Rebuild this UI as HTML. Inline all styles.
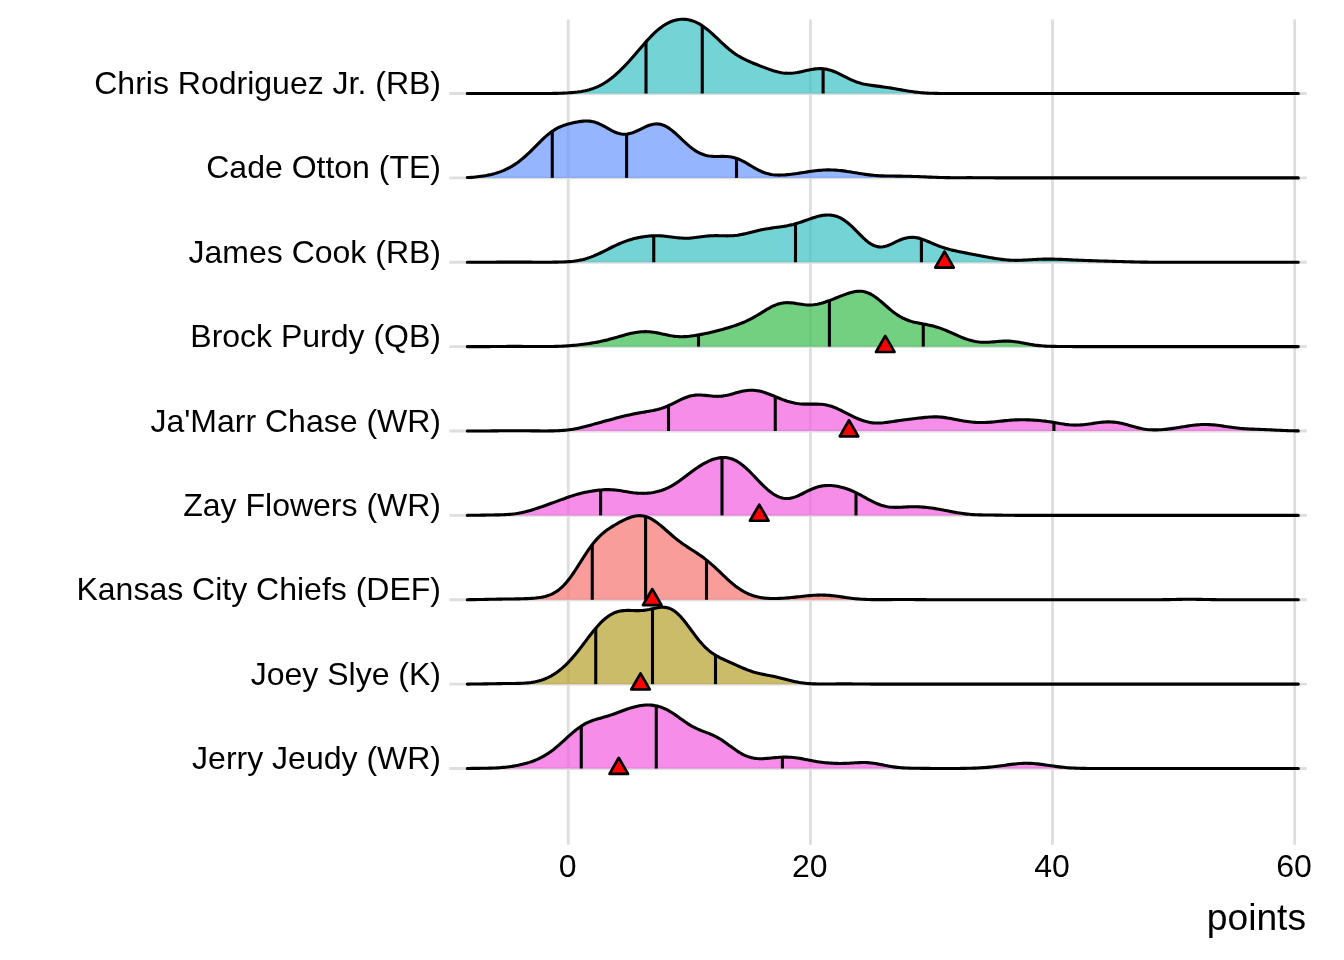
<!DOCTYPE html>
<html><head><meta charset="utf-8"><style>
html,body{margin:0;padding:0;background:#fff;width:1344px;height:960px;overflow:hidden}
svg{display:block;font-family:"Liberation Sans",sans-serif;fill:#000;will-change:transform}
</style></head><body>
<svg width="1344" height="960" viewBox="0 0 1344 960">
<line x1="568.25" y1="19.4" x2="568.25" y2="844.7" stroke="#DEDEDE" stroke-width="2.8"/>
<line x1="810.39" y1="19.4" x2="810.39" y2="844.7" stroke="#DEDEDE" stroke-width="2.8"/>
<line x1="1052.53" y1="19.4" x2="1052.53" y2="844.7" stroke="#DEDEDE" stroke-width="2.8"/>
<line x1="1294.67" y1="19.4" x2="1294.67" y2="844.7" stroke="#DEDEDE" stroke-width="2.8"/>
<line x1="449.4" y1="93.5" x2="1306.8" y2="93.5" stroke="#DEDEDE" stroke-width="2.8"/>
<line x1="449.4" y1="177.875" x2="1306.8" y2="177.875" stroke="#DEDEDE" stroke-width="2.8"/>
<line x1="449.4" y1="262.25" x2="1306.8" y2="262.25" stroke="#DEDEDE" stroke-width="2.8"/>
<line x1="449.4" y1="346.625" x2="1306.8" y2="346.625" stroke="#DEDEDE" stroke-width="2.8"/>
<line x1="449.4" y1="431.0" x2="1306.8" y2="431.0" stroke="#DEDEDE" stroke-width="2.8"/>
<line x1="449.4" y1="515.375" x2="1306.8" y2="515.375" stroke="#DEDEDE" stroke-width="2.8"/>
<line x1="449.4" y1="599.75" x2="1306.8" y2="599.75" stroke="#DEDEDE" stroke-width="2.8"/>
<line x1="449.4" y1="684.125" x2="1306.8" y2="684.125" stroke="#DEDEDE" stroke-width="2.8"/>
<line x1="449.4" y1="768.5" x2="1306.8" y2="768.5" stroke="#DEDEDE" stroke-width="2.8"/>
<path d="M467.3,93.50 L469.3,93.50 L471.3,93.50 L473.3,93.50 L475.3,93.50 L477.3,93.50 L479.3,93.50 L481.3,93.50 L483.3,93.50 L485.3,93.50 L487.3,93.50 L489.3,93.50 L491.3,93.50 L493.3,93.50 L495.3,93.50 L497.3,93.50 L499.3,93.50 L501.3,93.50 L503.3,93.50 L505.3,93.50 L507.3,93.50 L509.3,93.50 L511.3,93.50 L513.3,93.50 L515.3,93.50 L517.3,93.50 L519.3,93.50 L521.3,93.50 L523.3,93.50 L525.3,93.50 L527.3,93.50 L529.3,93.50 L531.3,93.50 L533.3,93.50 L535.3,93.50 L537.3,93.50 L539.3,93.49 L541.3,93.49 L543.3,93.48 L545.3,93.48 L547.3,93.47 L549.3,93.45 L551.3,93.43 L553.3,93.41 L555.3,93.38 L557.3,93.34 L559.3,93.29 L561.3,93.22 L563.3,93.15 L565.3,93.05 L567.3,92.94 L569.3,92.81 L571.3,92.66 L573.3,92.48 L575.3,92.27 L577.3,92.04 L579.3,91.76 L581.3,91.45 L583.3,91.09 L585.3,90.68 L587.3,90.22 L589.3,89.69 L591.3,89.10 L593.3,88.42 L595.3,87.67 L597.3,86.83 L599.3,85.90 L601.3,84.87 L603.3,83.75 L605.3,82.53 L607.3,81.21 L609.3,79.79 L611.3,78.28 L613.3,76.67 L615.3,74.98 L617.3,73.20 L619.3,71.34 L621.3,69.40 L623.3,67.40 L625.3,65.32 L627.3,63.19 L629.3,61.00 L631.3,58.76 L633.3,56.48 L635.3,54.18 L637.3,51.85 L639.3,49.52 L641.3,47.20 L643.3,44.89 L645.3,42.61 L647.3,40.38 L649.3,38.22 L651.3,36.12 L653.3,34.12 L655.3,32.22 L657.3,30.42 L659.3,28.75 L661.3,27.20 L663.3,25.78 L665.3,24.51 L667.3,23.36 L669.3,22.36 L671.3,21.50 L673.3,20.78 L675.3,20.20 L677.3,19.75 L679.3,19.44 L681.3,19.27 L683.3,19.23 L685.3,19.33 L687.3,19.57 L689.3,19.95 L691.3,20.46 L693.3,21.12 L695.3,21.91 L697.3,22.85 L699.3,23.92 L701.3,25.13 L703.3,26.47 L705.3,27.92 L707.3,29.49 L709.3,31.16 L711.3,32.91 L713.3,34.73 L715.3,36.60 L717.3,38.49 L719.3,40.40 L721.3,42.30 L723.3,44.17 L725.3,45.99 L727.3,47.74 L729.3,49.42 L731.3,51.02 L733.3,52.52 L735.3,53.93 L737.3,55.24 L739.3,56.47 L741.3,57.61 L743.3,58.67 L745.3,59.66 L747.3,60.61 L749.3,61.50 L751.3,62.36 L753.3,63.20 L755.3,64.01 L757.3,64.81 L759.3,65.60 L761.3,66.38 L763.3,67.16 L765.3,67.92 L767.3,68.66 L769.3,69.37 L771.3,70.06 L773.3,70.70 L775.3,71.29 L777.3,71.82 L779.3,72.28 L781.3,72.66 L783.3,72.96 L785.3,73.17 L787.3,73.28 L789.3,73.30 L791.3,73.23 L793.3,73.07 L795.3,72.82 L797.3,72.51 L799.3,72.14 L801.3,71.72 L803.3,71.27 L805.3,70.81 L807.3,70.35 L809.3,69.91 L811.3,69.51 L813.3,69.16 L815.3,68.88 L817.3,68.69 L819.3,68.60 L821.3,68.62 L823.3,68.75 L825.3,69.00 L827.3,69.38 L829.3,69.88 L831.3,70.49 L833.3,71.21 L835.3,72.02 L837.3,72.92 L839.3,73.87 L841.3,74.87 L843.3,75.88 L845.3,76.90 L847.3,77.91 L849.3,78.88 L851.3,79.80 L853.3,80.67 L855.3,81.46 L857.3,82.18 L859.3,82.83 L861.3,83.40 L863.3,83.90 L865.3,84.34 L867.3,84.72 L869.3,85.06 L871.3,85.36 L873.3,85.64 L875.3,85.90 L877.3,86.15 L879.3,86.40 L881.3,86.65 L883.3,86.92 L885.3,87.20 L887.3,87.49 L889.3,87.80 L891.3,88.12 L893.3,88.46 L895.3,88.81 L897.3,89.16 L899.3,89.52 L901.3,89.88 L903.3,90.24 L905.3,90.59 L907.3,90.93 L909.3,91.25 L911.3,91.55 L913.3,91.83 L915.3,92.09 L917.3,92.32 L919.3,92.53 L921.3,92.71 L923.3,92.86 L925.3,92.99 L927.3,93.10 L929.3,93.19 L931.3,93.26 L933.3,93.32 L935.3,93.36 L937.3,93.40 L939.3,93.43 L941.3,93.45 L943.3,93.46 L945.3,93.47 L947.3,93.48 L949.3,93.48 L951.3,93.49 L953.3,93.49 L955.3,93.49 L957.3,93.50 L959.3,93.50 L961.3,93.50 L963.3,93.50 L965.3,93.50 L967.3,93.50 L969.3,93.50 L971.3,93.50 L973.3,93.50 L975.3,93.50 L977.3,93.50 L979.3,93.50 L981.3,93.50 L983.3,93.50 L985.3,93.50 L987.3,93.50 L989.3,93.50 L991.3,93.50 L993.3,93.50 L995.3,93.50 L997.3,93.50 L999.3,93.50 L1001.3,93.50 L1003.3,93.50 L1005.3,93.50 L1007.3,93.50 L1009.3,93.50 L1011.3,93.50 L1013.3,93.50 L1015.3,93.50 L1017.3,93.50 L1019.3,93.50 L1021.3,93.50 L1023.3,93.50 L1025.3,93.50 L1027.3,93.50 L1029.3,93.50 L1031.3,93.50 L1033.3,93.50 L1035.3,93.50 L1037.3,93.50 L1039.3,93.50 L1041.3,93.50 L1043.3,93.50 L1045.3,93.50 L1047.3,93.50 L1049.3,93.50 L1051.3,93.50 L1053.3,93.50 L1055.3,93.50 L1057.3,93.50 L1059.3,93.50 L1061.3,93.50 L1063.3,93.50 L1065.3,93.50 L1067.3,93.50 L1069.3,93.50 L1071.3,93.50 L1073.3,93.50 L1075.3,93.50 L1077.3,93.50 L1079.3,93.50 L1081.3,93.50 L1083.3,93.50 L1085.3,93.50 L1087.3,93.50 L1089.3,93.50 L1091.3,93.50 L1093.3,93.50 L1095.3,93.50 L1097.3,93.50 L1099.3,93.50 L1101.3,93.50 L1103.3,93.50 L1105.3,93.50 L1107.3,93.50 L1109.3,93.50 L1111.3,93.50 L1113.3,93.50 L1115.3,93.50 L1117.3,93.50 L1119.3,93.50 L1121.3,93.50 L1123.3,93.50 L1125.3,93.50 L1127.3,93.50 L1129.3,93.50 L1131.3,93.50 L1133.3,93.50 L1135.3,93.50 L1137.3,93.50 L1139.3,93.50 L1141.3,93.50 L1143.3,93.50 L1145.3,93.50 L1147.3,93.50 L1149.3,93.50 L1151.3,93.50 L1153.3,93.50 L1155.3,93.50 L1157.3,93.50 L1159.3,93.50 L1161.3,93.50 L1163.3,93.50 L1165.3,93.50 L1167.3,93.50 L1169.3,93.50 L1171.3,93.50 L1173.3,93.50 L1175.3,93.50 L1177.3,93.50 L1179.3,93.50 L1181.3,93.50 L1183.3,93.50 L1185.3,93.50 L1187.3,93.50 L1189.3,93.50 L1191.3,93.50 L1193.3,93.50 L1195.3,93.50 L1197.3,93.50 L1199.3,93.50 L1201.3,93.50 L1203.3,93.50 L1205.3,93.50 L1207.3,93.50 L1209.3,93.50 L1211.3,93.50 L1213.3,93.50 L1215.3,93.50 L1217.3,93.50 L1219.3,93.50 L1221.3,93.50 L1223.3,93.50 L1225.3,93.50 L1227.3,93.50 L1229.3,93.50 L1231.3,93.50 L1233.3,93.50 L1235.3,93.50 L1237.3,93.50 L1239.3,93.50 L1241.3,93.50 L1243.3,93.50 L1245.3,93.50 L1247.3,93.50 L1249.3,93.50 L1251.3,93.50 L1253.3,93.50 L1255.3,93.50 L1257.3,93.50 L1259.3,93.50 L1261.3,93.50 L1263.3,93.50 L1265.3,93.50 L1267.3,93.50 L1269.3,93.50 L1271.3,93.50 L1273.3,93.50 L1275.3,93.50 L1277.3,93.50 L1279.3,93.50 L1281.3,93.50 L1283.3,93.50 L1285.3,93.50 L1287.3,93.50 L1289.3,93.50 L1291.3,93.50 L1293.3,93.50 L1295.3,93.50 L1297.3,93.50 L1298.3,93.50 L1298.3,93.5 L467.3,93.5 Z" fill="#38C0C3" fill-opacity="0.7" stroke="none"/>
<path d="M467.3,93.50 L469.3,93.50 L471.3,93.50 L473.3,93.50 L475.3,93.50 L477.3,93.50 L479.3,93.50 L481.3,93.50 L483.3,93.50 L485.3,93.50 L487.3,93.50 L489.3,93.50 L491.3,93.50 L493.3,93.50 L495.3,93.50 L497.3,93.50 L499.3,93.50 L501.3,93.50 L503.3,93.50 L505.3,93.50 L507.3,93.50 L509.3,93.50 L511.3,93.50 L513.3,93.50 L515.3,93.50 L517.3,93.50 L519.3,93.50 L521.3,93.50 L523.3,93.50 L525.3,93.50 L527.3,93.50 L529.3,93.50 L531.3,93.50 L533.3,93.50 L535.3,93.50 L537.3,93.50 L539.3,93.49 L541.3,93.49 L543.3,93.48 L545.3,93.48 L547.3,93.47 L549.3,93.45 L551.3,93.43 L553.3,93.41 L555.3,93.38 L557.3,93.34 L559.3,93.29 L561.3,93.22 L563.3,93.15 L565.3,93.05 L567.3,92.94 L569.3,92.81 L571.3,92.66 L573.3,92.48 L575.3,92.27 L577.3,92.04 L579.3,91.76 L581.3,91.45 L583.3,91.09 L585.3,90.68 L587.3,90.22 L589.3,89.69 L591.3,89.10 L593.3,88.42 L595.3,87.67 L597.3,86.83 L599.3,85.90 L601.3,84.87 L603.3,83.75 L605.3,82.53 L607.3,81.21 L609.3,79.79 L611.3,78.28 L613.3,76.67 L615.3,74.98 L617.3,73.20 L619.3,71.34 L621.3,69.40 L623.3,67.40 L625.3,65.32 L627.3,63.19 L629.3,61.00 L631.3,58.76 L633.3,56.48 L635.3,54.18 L637.3,51.85 L639.3,49.52 L641.3,47.20 L643.3,44.89 L645.3,42.61 L647.3,40.38 L649.3,38.22 L651.3,36.12 L653.3,34.12 L655.3,32.22 L657.3,30.42 L659.3,28.75 L661.3,27.20 L663.3,25.78 L665.3,24.51 L667.3,23.36 L669.3,22.36 L671.3,21.50 L673.3,20.78 L675.3,20.20 L677.3,19.75 L679.3,19.44 L681.3,19.27 L683.3,19.23 L685.3,19.33 L687.3,19.57 L689.3,19.95 L691.3,20.46 L693.3,21.12 L695.3,21.91 L697.3,22.85 L699.3,23.92 L701.3,25.13 L703.3,26.47 L705.3,27.92 L707.3,29.49 L709.3,31.16 L711.3,32.91 L713.3,34.73 L715.3,36.60 L717.3,38.49 L719.3,40.40 L721.3,42.30 L723.3,44.17 L725.3,45.99 L727.3,47.74 L729.3,49.42 L731.3,51.02 L733.3,52.52 L735.3,53.93 L737.3,55.24 L739.3,56.47 L741.3,57.61 L743.3,58.67 L745.3,59.66 L747.3,60.61 L749.3,61.50 L751.3,62.36 L753.3,63.20 L755.3,64.01 L757.3,64.81 L759.3,65.60 L761.3,66.38 L763.3,67.16 L765.3,67.92 L767.3,68.66 L769.3,69.37 L771.3,70.06 L773.3,70.70 L775.3,71.29 L777.3,71.82 L779.3,72.28 L781.3,72.66 L783.3,72.96 L785.3,73.17 L787.3,73.28 L789.3,73.30 L791.3,73.23 L793.3,73.07 L795.3,72.82 L797.3,72.51 L799.3,72.14 L801.3,71.72 L803.3,71.27 L805.3,70.81 L807.3,70.35 L809.3,69.91 L811.3,69.51 L813.3,69.16 L815.3,68.88 L817.3,68.69 L819.3,68.60 L821.3,68.62 L823.3,68.75 L825.3,69.00 L827.3,69.38 L829.3,69.88 L831.3,70.49 L833.3,71.21 L835.3,72.02 L837.3,72.92 L839.3,73.87 L841.3,74.87 L843.3,75.88 L845.3,76.90 L847.3,77.91 L849.3,78.88 L851.3,79.80 L853.3,80.67 L855.3,81.46 L857.3,82.18 L859.3,82.83 L861.3,83.40 L863.3,83.90 L865.3,84.34 L867.3,84.72 L869.3,85.06 L871.3,85.36 L873.3,85.64 L875.3,85.90 L877.3,86.15 L879.3,86.40 L881.3,86.65 L883.3,86.92 L885.3,87.20 L887.3,87.49 L889.3,87.80 L891.3,88.12 L893.3,88.46 L895.3,88.81 L897.3,89.16 L899.3,89.52 L901.3,89.88 L903.3,90.24 L905.3,90.59 L907.3,90.93 L909.3,91.25 L911.3,91.55 L913.3,91.83 L915.3,92.09 L917.3,92.32 L919.3,92.53 L921.3,92.71 L923.3,92.86 L925.3,92.99 L927.3,93.10 L929.3,93.19 L931.3,93.26 L933.3,93.32 L935.3,93.36 L937.3,93.40 L939.3,93.43 L941.3,93.45 L943.3,93.46 L945.3,93.47 L947.3,93.48 L949.3,93.48 L951.3,93.49 L953.3,93.49 L955.3,93.49 L957.3,93.50 L959.3,93.50 L961.3,93.50 L963.3,93.50 L965.3,93.50 L967.3,93.50 L969.3,93.50 L971.3,93.50 L973.3,93.50 L975.3,93.50 L977.3,93.50 L979.3,93.50 L981.3,93.50 L983.3,93.50 L985.3,93.50 L987.3,93.50 L989.3,93.50 L991.3,93.50 L993.3,93.50 L995.3,93.50 L997.3,93.50 L999.3,93.50 L1001.3,93.50 L1003.3,93.50 L1005.3,93.50 L1007.3,93.50 L1009.3,93.50 L1011.3,93.50 L1013.3,93.50 L1015.3,93.50 L1017.3,93.50 L1019.3,93.50 L1021.3,93.50 L1023.3,93.50 L1025.3,93.50 L1027.3,93.50 L1029.3,93.50 L1031.3,93.50 L1033.3,93.50 L1035.3,93.50 L1037.3,93.50 L1039.3,93.50 L1041.3,93.50 L1043.3,93.50 L1045.3,93.50 L1047.3,93.50 L1049.3,93.50 L1051.3,93.50 L1053.3,93.50 L1055.3,93.50 L1057.3,93.50 L1059.3,93.50 L1061.3,93.50 L1063.3,93.50 L1065.3,93.50 L1067.3,93.50 L1069.3,93.50 L1071.3,93.50 L1073.3,93.50 L1075.3,93.50 L1077.3,93.50 L1079.3,93.50 L1081.3,93.50 L1083.3,93.50 L1085.3,93.50 L1087.3,93.50 L1089.3,93.50 L1091.3,93.50 L1093.3,93.50 L1095.3,93.50 L1097.3,93.50 L1099.3,93.50 L1101.3,93.50 L1103.3,93.50 L1105.3,93.50 L1107.3,93.50 L1109.3,93.50 L1111.3,93.50 L1113.3,93.50 L1115.3,93.50 L1117.3,93.50 L1119.3,93.50 L1121.3,93.50 L1123.3,93.50 L1125.3,93.50 L1127.3,93.50 L1129.3,93.50 L1131.3,93.50 L1133.3,93.50 L1135.3,93.50 L1137.3,93.50 L1139.3,93.50 L1141.3,93.50 L1143.3,93.50 L1145.3,93.50 L1147.3,93.50 L1149.3,93.50 L1151.3,93.50 L1153.3,93.50 L1155.3,93.50 L1157.3,93.50 L1159.3,93.50 L1161.3,93.50 L1163.3,93.50 L1165.3,93.50 L1167.3,93.50 L1169.3,93.50 L1171.3,93.50 L1173.3,93.50 L1175.3,93.50 L1177.3,93.50 L1179.3,93.50 L1181.3,93.50 L1183.3,93.50 L1185.3,93.50 L1187.3,93.50 L1189.3,93.50 L1191.3,93.50 L1193.3,93.50 L1195.3,93.50 L1197.3,93.50 L1199.3,93.50 L1201.3,93.50 L1203.3,93.50 L1205.3,93.50 L1207.3,93.50 L1209.3,93.50 L1211.3,93.50 L1213.3,93.50 L1215.3,93.50 L1217.3,93.50 L1219.3,93.50 L1221.3,93.50 L1223.3,93.50 L1225.3,93.50 L1227.3,93.50 L1229.3,93.50 L1231.3,93.50 L1233.3,93.50 L1235.3,93.50 L1237.3,93.50 L1239.3,93.50 L1241.3,93.50 L1243.3,93.50 L1245.3,93.50 L1247.3,93.50 L1249.3,93.50 L1251.3,93.50 L1253.3,93.50 L1255.3,93.50 L1257.3,93.50 L1259.3,93.50 L1261.3,93.50 L1263.3,93.50 L1265.3,93.50 L1267.3,93.50 L1269.3,93.50 L1271.3,93.50 L1273.3,93.50 L1275.3,93.50 L1277.3,93.50 L1279.3,93.50 L1281.3,93.50 L1283.3,93.50 L1285.3,93.50 L1287.3,93.50 L1289.3,93.50 L1291.3,93.50 L1293.3,93.50 L1295.3,93.50 L1297.3,93.50 L1298.3,93.50" fill="none" stroke="#000" stroke-width="3.1" stroke-linecap="round" stroke-linejoin="round"/>
<line x1="646.00" y1="93.5" x2="646.00" y2="41.83" stroke="#000" stroke-width="3.1"/>
<line x1="702.25" y1="93.5" x2="702.25" y2="25.75" stroke="#000" stroke-width="3.1"/>
<line x1="823.10" y1="93.5" x2="823.10" y2="68.73" stroke="#000" stroke-width="3.1"/>
<path d="M467.3,177.55 L469.3,177.45 L471.3,177.33 L473.3,177.18 L475.3,177.01 L477.3,176.81 L479.3,176.58 L481.3,176.31 L483.3,176.01 L485.3,175.68 L487.3,175.31 L489.3,174.89 L491.3,174.44 L493.3,173.93 L495.3,173.38 L497.3,172.78 L499.3,172.11 L501.3,171.38 L503.3,170.58 L505.3,169.71 L507.3,168.75 L509.3,167.72 L511.3,166.60 L513.3,165.39 L515.3,164.08 L517.3,162.69 L519.3,161.21 L521.3,159.63 L523.3,157.98 L525.3,156.24 L527.3,154.42 L529.3,152.54 L531.3,150.61 L533.3,148.63 L535.3,146.63 L537.3,144.62 L539.3,142.61 L541.3,140.65 L543.3,138.73 L545.3,136.89 L547.3,135.14 L549.3,133.50 L551.3,131.98 L553.3,130.59 L555.3,129.34 L557.3,128.22 L559.3,127.23 L561.3,126.35 L563.3,125.58 L565.3,124.90 L567.3,124.29 L569.3,123.75 L571.3,123.25 L573.3,122.79 L575.3,122.36 L577.3,121.98 L579.3,121.64 L581.3,121.37 L583.3,121.16 L585.3,121.04 L587.3,121.03 L589.3,121.15 L591.3,121.40 L593.3,121.80 L595.3,122.34 L597.3,123.04 L599.3,123.87 L601.3,124.81 L603.3,125.85 L605.3,126.96 L607.3,128.09 L609.3,129.22 L611.3,130.31 L613.3,131.32 L615.3,132.21 L617.3,132.97 L619.3,133.56 L621.3,133.96 L623.3,134.18 L625.3,134.19 L627.3,134.01 L629.3,133.65 L631.3,133.12 L633.3,132.44 L635.3,131.63 L637.3,130.73 L639.3,129.78 L641.3,128.79 L643.3,127.81 L645.3,126.87 L647.3,126.01 L649.3,125.26 L651.3,124.65 L653.3,124.21 L655.3,123.96 L657.3,123.92 L659.3,124.10 L661.3,124.52 L663.3,125.16 L665.3,126.04 L667.3,127.13 L669.3,128.41 L671.3,129.88 L673.3,131.50 L675.3,133.23 L677.3,135.06 L679.3,136.94 L681.3,138.85 L683.3,140.75 L685.3,142.62 L687.3,144.42 L689.3,146.14 L691.3,147.76 L693.3,149.25 L695.3,150.61 L697.3,151.82 L699.3,152.89 L701.3,153.80 L703.3,154.56 L705.3,155.18 L707.3,155.66 L709.3,156.01 L711.3,156.25 L713.3,156.40 L715.3,156.46 L717.3,156.47 L719.3,156.45 L721.3,156.42 L723.3,156.41 L725.3,156.45 L727.3,156.55 L729.3,156.74 L731.3,157.04 L733.3,157.45 L735.3,157.99 L737.3,158.65 L739.3,159.44 L741.3,160.35 L743.3,161.36 L745.3,162.46 L747.3,163.61 L749.3,164.81 L751.3,166.02 L753.3,167.22 L755.3,168.38 L757.3,169.49 L759.3,170.52 L761.3,171.45 L763.3,172.29 L765.3,173.01 L767.3,173.61 L769.3,174.11 L771.3,174.49 L773.3,174.77 L775.3,174.96 L777.3,175.07 L779.3,175.09 L781.3,175.06 L783.3,174.97 L785.3,174.84 L787.3,174.66 L789.3,174.46 L791.3,174.23 L793.3,173.98 L795.3,173.71 L797.3,173.42 L799.3,173.12 L801.3,172.82 L803.3,172.51 L805.3,172.19 L807.3,171.88 L809.3,171.58 L811.3,171.29 L813.3,171.02 L815.3,170.77 L817.3,170.54 L819.3,170.34 L821.3,170.18 L823.3,170.05 L825.3,169.96 L827.3,169.91 L829.3,169.90 L831.3,169.93 L833.3,170.00 L835.3,170.10 L837.3,170.25 L839.3,170.42 L841.3,170.64 L843.3,170.88 L845.3,171.14 L847.3,171.44 L849.3,171.75 L851.3,172.07 L853.3,172.41 L855.3,172.75 L857.3,173.09 L859.3,173.43 L861.3,173.76 L863.3,174.07 L865.3,174.37 L867.3,174.64 L869.3,174.89 L871.3,175.12 L873.3,175.31 L875.3,175.48 L877.3,175.63 L879.3,175.74 L881.3,175.84 L883.3,175.91 L885.3,175.97 L887.3,176.01 L889.3,176.04 L891.3,176.06 L893.3,176.07 L895.3,176.09 L897.3,176.10 L899.3,176.12 L901.3,176.15 L903.3,176.18 L905.3,176.21 L907.3,176.26 L909.3,176.31 L911.3,176.36 L913.3,176.43 L915.3,176.50 L917.3,176.57 L919.3,176.65 L921.3,176.73 L923.3,176.82 L925.3,176.90 L927.3,176.99 L929.3,177.08 L931.3,177.16 L933.3,177.24 L935.3,177.32 L937.3,177.39 L939.3,177.45 L941.3,177.51 L943.3,177.56 L945.3,177.61 L947.3,177.64 L949.3,177.66 L951.3,177.68 L953.3,177.69 L955.3,177.70 L957.3,177.70 L959.3,177.70 L961.3,177.69 L963.3,177.68 L965.3,177.68 L967.3,177.67 L969.3,177.67 L971.3,177.67 L973.3,177.68 L975.3,177.68 L977.3,177.70 L979.3,177.71 L981.3,177.72 L983.3,177.74 L985.3,177.76 L987.3,177.77 L989.3,177.79 L991.3,177.80 L993.3,177.82 L995.3,177.83 L997.3,177.84 L999.3,177.85 L1001.3,177.85 L1003.3,177.86 L1005.3,177.86 L1007.3,177.87 L1009.3,177.87 L1011.3,177.87 L1013.3,177.87 L1015.3,177.87 L1017.3,177.87 L1019.3,177.87 L1021.3,177.87 L1023.3,177.87 L1025.3,177.87 L1027.3,177.87 L1029.3,177.87 L1031.3,177.87 L1033.3,177.87 L1035.3,177.87 L1037.3,177.87 L1039.3,177.87 L1041.3,177.87 L1043.3,177.87 L1045.3,177.87 L1047.3,177.87 L1049.3,177.87 L1051.3,177.87 L1053.3,177.87 L1055.3,177.87 L1057.3,177.87 L1059.3,177.87 L1061.3,177.87 L1063.3,177.87 L1065.3,177.87 L1067.3,177.87 L1069.3,177.87 L1071.3,177.87 L1073.3,177.87 L1075.3,177.87 L1077.3,177.87 L1079.3,177.87 L1081.3,177.87 L1083.3,177.88 L1085.3,177.88 L1087.3,177.88 L1089.3,177.88 L1091.3,177.88 L1093.3,177.88 L1095.3,177.88 L1097.3,177.88 L1099.3,177.88 L1101.3,177.88 L1103.3,177.88 L1105.3,177.88 L1107.3,177.88 L1109.3,177.88 L1111.3,177.88 L1113.3,177.88 L1115.3,177.88 L1117.3,177.88 L1119.3,177.88 L1121.3,177.88 L1123.3,177.88 L1125.3,177.88 L1127.3,177.88 L1129.3,177.88 L1131.3,177.88 L1133.3,177.88 L1135.3,177.88 L1137.3,177.88 L1139.3,177.88 L1141.3,177.88 L1143.3,177.88 L1145.3,177.88 L1147.3,177.88 L1149.3,177.88 L1151.3,177.88 L1153.3,177.88 L1155.3,177.88 L1157.3,177.88 L1159.3,177.88 L1161.3,177.88 L1163.3,177.88 L1165.3,177.88 L1167.3,177.88 L1169.3,177.88 L1171.3,177.88 L1173.3,177.88 L1175.3,177.88 L1177.3,177.88 L1179.3,177.88 L1181.3,177.88 L1183.3,177.88 L1185.3,177.88 L1187.3,177.88 L1189.3,177.88 L1191.3,177.88 L1193.3,177.88 L1195.3,177.88 L1197.3,177.88 L1199.3,177.88 L1201.3,177.88 L1203.3,177.88 L1205.3,177.88 L1207.3,177.88 L1209.3,177.88 L1211.3,177.88 L1213.3,177.88 L1215.3,177.88 L1217.3,177.88 L1219.3,177.88 L1221.3,177.88 L1223.3,177.88 L1225.3,177.88 L1227.3,177.88 L1229.3,177.88 L1231.3,177.88 L1233.3,177.88 L1235.3,177.88 L1237.3,177.88 L1239.3,177.88 L1241.3,177.88 L1243.3,177.88 L1245.3,177.88 L1247.3,177.88 L1249.3,177.88 L1251.3,177.88 L1253.3,177.88 L1255.3,177.88 L1257.3,177.88 L1259.3,177.88 L1261.3,177.88 L1263.3,177.88 L1265.3,177.88 L1267.3,177.88 L1269.3,177.88 L1271.3,177.88 L1273.3,177.88 L1275.3,177.88 L1277.3,177.88 L1279.3,177.88 L1281.3,177.88 L1283.3,177.88 L1285.3,177.88 L1287.3,177.88 L1289.3,177.88 L1291.3,177.88 L1293.3,177.88 L1295.3,177.88 L1297.3,177.88 L1298.3,177.88 L1298.3,177.875 L467.3,177.875 Z" fill="#6995FF" fill-opacity="0.7" stroke="none"/>
<path d="M467.3,177.55 L469.3,177.45 L471.3,177.33 L473.3,177.18 L475.3,177.01 L477.3,176.81 L479.3,176.58 L481.3,176.31 L483.3,176.01 L485.3,175.68 L487.3,175.31 L489.3,174.89 L491.3,174.44 L493.3,173.93 L495.3,173.38 L497.3,172.78 L499.3,172.11 L501.3,171.38 L503.3,170.58 L505.3,169.71 L507.3,168.75 L509.3,167.72 L511.3,166.60 L513.3,165.39 L515.3,164.08 L517.3,162.69 L519.3,161.21 L521.3,159.63 L523.3,157.98 L525.3,156.24 L527.3,154.42 L529.3,152.54 L531.3,150.61 L533.3,148.63 L535.3,146.63 L537.3,144.62 L539.3,142.61 L541.3,140.65 L543.3,138.73 L545.3,136.89 L547.3,135.14 L549.3,133.50 L551.3,131.98 L553.3,130.59 L555.3,129.34 L557.3,128.22 L559.3,127.23 L561.3,126.35 L563.3,125.58 L565.3,124.90 L567.3,124.29 L569.3,123.75 L571.3,123.25 L573.3,122.79 L575.3,122.36 L577.3,121.98 L579.3,121.64 L581.3,121.37 L583.3,121.16 L585.3,121.04 L587.3,121.03 L589.3,121.15 L591.3,121.40 L593.3,121.80 L595.3,122.34 L597.3,123.04 L599.3,123.87 L601.3,124.81 L603.3,125.85 L605.3,126.96 L607.3,128.09 L609.3,129.22 L611.3,130.31 L613.3,131.32 L615.3,132.21 L617.3,132.97 L619.3,133.56 L621.3,133.96 L623.3,134.18 L625.3,134.19 L627.3,134.01 L629.3,133.65 L631.3,133.12 L633.3,132.44 L635.3,131.63 L637.3,130.73 L639.3,129.78 L641.3,128.79 L643.3,127.81 L645.3,126.87 L647.3,126.01 L649.3,125.26 L651.3,124.65 L653.3,124.21 L655.3,123.96 L657.3,123.92 L659.3,124.10 L661.3,124.52 L663.3,125.16 L665.3,126.04 L667.3,127.13 L669.3,128.41 L671.3,129.88 L673.3,131.50 L675.3,133.23 L677.3,135.06 L679.3,136.94 L681.3,138.85 L683.3,140.75 L685.3,142.62 L687.3,144.42 L689.3,146.14 L691.3,147.76 L693.3,149.25 L695.3,150.61 L697.3,151.82 L699.3,152.89 L701.3,153.80 L703.3,154.56 L705.3,155.18 L707.3,155.66 L709.3,156.01 L711.3,156.25 L713.3,156.40 L715.3,156.46 L717.3,156.47 L719.3,156.45 L721.3,156.42 L723.3,156.41 L725.3,156.45 L727.3,156.55 L729.3,156.74 L731.3,157.04 L733.3,157.45 L735.3,157.99 L737.3,158.65 L739.3,159.44 L741.3,160.35 L743.3,161.36 L745.3,162.46 L747.3,163.61 L749.3,164.81 L751.3,166.02 L753.3,167.22 L755.3,168.38 L757.3,169.49 L759.3,170.52 L761.3,171.45 L763.3,172.29 L765.3,173.01 L767.3,173.61 L769.3,174.11 L771.3,174.49 L773.3,174.77 L775.3,174.96 L777.3,175.07 L779.3,175.09 L781.3,175.06 L783.3,174.97 L785.3,174.84 L787.3,174.66 L789.3,174.46 L791.3,174.23 L793.3,173.98 L795.3,173.71 L797.3,173.42 L799.3,173.12 L801.3,172.82 L803.3,172.51 L805.3,172.19 L807.3,171.88 L809.3,171.58 L811.3,171.29 L813.3,171.02 L815.3,170.77 L817.3,170.54 L819.3,170.34 L821.3,170.18 L823.3,170.05 L825.3,169.96 L827.3,169.91 L829.3,169.90 L831.3,169.93 L833.3,170.00 L835.3,170.10 L837.3,170.25 L839.3,170.42 L841.3,170.64 L843.3,170.88 L845.3,171.14 L847.3,171.44 L849.3,171.75 L851.3,172.07 L853.3,172.41 L855.3,172.75 L857.3,173.09 L859.3,173.43 L861.3,173.76 L863.3,174.07 L865.3,174.37 L867.3,174.64 L869.3,174.89 L871.3,175.12 L873.3,175.31 L875.3,175.48 L877.3,175.63 L879.3,175.74 L881.3,175.84 L883.3,175.91 L885.3,175.97 L887.3,176.01 L889.3,176.04 L891.3,176.06 L893.3,176.07 L895.3,176.09 L897.3,176.10 L899.3,176.12 L901.3,176.15 L903.3,176.18 L905.3,176.21 L907.3,176.26 L909.3,176.31 L911.3,176.36 L913.3,176.43 L915.3,176.50 L917.3,176.57 L919.3,176.65 L921.3,176.73 L923.3,176.82 L925.3,176.90 L927.3,176.99 L929.3,177.08 L931.3,177.16 L933.3,177.24 L935.3,177.32 L937.3,177.39 L939.3,177.45 L941.3,177.51 L943.3,177.56 L945.3,177.61 L947.3,177.64 L949.3,177.66 L951.3,177.68 L953.3,177.69 L955.3,177.70 L957.3,177.70 L959.3,177.70 L961.3,177.69 L963.3,177.68 L965.3,177.68 L967.3,177.67 L969.3,177.67 L971.3,177.67 L973.3,177.68 L975.3,177.68 L977.3,177.70 L979.3,177.71 L981.3,177.72 L983.3,177.74 L985.3,177.76 L987.3,177.77 L989.3,177.79 L991.3,177.80 L993.3,177.82 L995.3,177.83 L997.3,177.84 L999.3,177.85 L1001.3,177.85 L1003.3,177.86 L1005.3,177.86 L1007.3,177.87 L1009.3,177.87 L1011.3,177.87 L1013.3,177.87 L1015.3,177.87 L1017.3,177.87 L1019.3,177.87 L1021.3,177.87 L1023.3,177.87 L1025.3,177.87 L1027.3,177.87 L1029.3,177.87 L1031.3,177.87 L1033.3,177.87 L1035.3,177.87 L1037.3,177.87 L1039.3,177.87 L1041.3,177.87 L1043.3,177.87 L1045.3,177.87 L1047.3,177.87 L1049.3,177.87 L1051.3,177.87 L1053.3,177.87 L1055.3,177.87 L1057.3,177.87 L1059.3,177.87 L1061.3,177.87 L1063.3,177.87 L1065.3,177.87 L1067.3,177.87 L1069.3,177.87 L1071.3,177.87 L1073.3,177.87 L1075.3,177.87 L1077.3,177.87 L1079.3,177.87 L1081.3,177.87 L1083.3,177.88 L1085.3,177.88 L1087.3,177.88 L1089.3,177.88 L1091.3,177.88 L1093.3,177.88 L1095.3,177.88 L1097.3,177.88 L1099.3,177.88 L1101.3,177.88 L1103.3,177.88 L1105.3,177.88 L1107.3,177.88 L1109.3,177.88 L1111.3,177.88 L1113.3,177.88 L1115.3,177.88 L1117.3,177.88 L1119.3,177.88 L1121.3,177.88 L1123.3,177.88 L1125.3,177.88 L1127.3,177.88 L1129.3,177.88 L1131.3,177.88 L1133.3,177.88 L1135.3,177.88 L1137.3,177.88 L1139.3,177.88 L1141.3,177.88 L1143.3,177.88 L1145.3,177.88 L1147.3,177.88 L1149.3,177.88 L1151.3,177.88 L1153.3,177.88 L1155.3,177.88 L1157.3,177.88 L1159.3,177.88 L1161.3,177.88 L1163.3,177.88 L1165.3,177.88 L1167.3,177.88 L1169.3,177.88 L1171.3,177.88 L1173.3,177.88 L1175.3,177.88 L1177.3,177.88 L1179.3,177.88 L1181.3,177.88 L1183.3,177.88 L1185.3,177.88 L1187.3,177.88 L1189.3,177.88 L1191.3,177.88 L1193.3,177.88 L1195.3,177.88 L1197.3,177.88 L1199.3,177.88 L1201.3,177.88 L1203.3,177.88 L1205.3,177.88 L1207.3,177.88 L1209.3,177.88 L1211.3,177.88 L1213.3,177.88 L1215.3,177.88 L1217.3,177.88 L1219.3,177.88 L1221.3,177.88 L1223.3,177.88 L1225.3,177.88 L1227.3,177.88 L1229.3,177.88 L1231.3,177.88 L1233.3,177.88 L1235.3,177.88 L1237.3,177.88 L1239.3,177.88 L1241.3,177.88 L1243.3,177.88 L1245.3,177.88 L1247.3,177.88 L1249.3,177.88 L1251.3,177.88 L1253.3,177.88 L1255.3,177.88 L1257.3,177.88 L1259.3,177.88 L1261.3,177.88 L1263.3,177.88 L1265.3,177.88 L1267.3,177.88 L1269.3,177.88 L1271.3,177.88 L1273.3,177.88 L1275.3,177.88 L1277.3,177.88 L1279.3,177.88 L1281.3,177.88 L1283.3,177.88 L1285.3,177.88 L1287.3,177.88 L1289.3,177.88 L1291.3,177.88 L1293.3,177.88 L1295.3,177.88 L1297.3,177.88 L1298.3,177.88" fill="none" stroke="#000" stroke-width="3.1" stroke-linecap="round" stroke-linejoin="round"/>
<line x1="552.25" y1="177.875" x2="552.25" y2="131.30" stroke="#000" stroke-width="3.1"/>
<line x1="626.60" y1="177.875" x2="626.60" y2="134.10" stroke="#000" stroke-width="3.1"/>
<line x1="736.50" y1="177.875" x2="736.50" y2="158.37" stroke="#000" stroke-width="3.1"/>
<path d="M467.3,262.25 L469.3,262.25 L471.3,262.25 L473.3,262.25 L475.3,262.25 L477.3,262.24 L479.3,262.24 L481.3,262.24 L483.3,262.24 L485.3,262.23 L487.3,262.22 L489.3,262.22 L491.3,262.21 L493.3,262.20 L495.3,262.19 L497.3,262.17 L499.3,262.16 L501.3,262.15 L503.3,262.13 L505.3,262.12 L507.3,262.11 L509.3,262.10 L511.3,262.10 L513.3,262.09 L515.3,262.09 L517.3,262.10 L519.3,262.10 L521.3,262.11 L523.3,262.12 L525.3,262.13 L527.3,262.14 L529.3,262.16 L531.3,262.17 L533.3,262.18 L535.3,262.19 L537.3,262.20 L539.3,262.20 L541.3,262.21 L543.3,262.21 L545.3,262.21 L547.3,262.20 L549.3,262.19 L551.3,262.18 L553.3,262.16 L555.3,262.13 L557.3,262.10 L559.3,262.06 L561.3,262.00 L563.3,261.93 L565.3,261.84 L567.3,261.73 L569.3,261.59 L571.3,261.42 L573.3,261.21 L575.3,260.95 L577.3,260.65 L579.3,260.30 L581.3,259.89 L583.3,259.42 L585.3,258.88 L587.3,258.28 L589.3,257.62 L591.3,256.90 L593.3,256.12 L595.3,255.28 L597.3,254.40 L599.3,253.47 L601.3,252.51 L603.3,251.52 L605.3,250.52 L607.3,249.51 L609.3,248.50 L611.3,247.50 L613.3,246.51 L615.3,245.56 L617.3,244.63 L619.3,243.74 L621.3,242.90 L623.3,242.10 L625.3,241.35 L627.3,240.65 L629.3,240.00 L631.3,239.40 L633.3,238.85 L635.3,238.35 L637.3,237.89 L639.3,237.48 L641.3,237.10 L643.3,236.78 L645.3,236.49 L647.3,236.25 L649.3,236.05 L651.3,235.91 L653.3,235.81 L655.3,235.76 L657.3,235.76 L659.3,235.81 L661.3,235.91 L663.3,236.06 L665.3,236.24 L667.3,236.47 L669.3,236.71 L671.3,236.97 L673.3,237.23 L675.3,237.48 L677.3,237.71 L679.3,237.91 L681.3,238.06 L683.3,238.16 L685.3,238.20 L687.3,238.18 L689.3,238.10 L691.3,237.96 L693.3,237.78 L695.3,237.56 L697.3,237.30 L699.3,237.04 L701.3,236.77 L703.3,236.51 L705.3,236.27 L707.3,236.07 L709.3,235.90 L711.3,235.78 L713.3,235.71 L715.3,235.67 L717.3,235.67 L719.3,235.70 L721.3,235.74 L723.3,235.78 L725.3,235.81 L727.3,235.83 L729.3,235.80 L731.3,235.73 L733.3,235.61 L735.3,235.43 L737.3,235.19 L739.3,234.90 L741.3,234.54 L743.3,234.14 L745.3,233.70 L747.3,233.23 L749.3,232.73 L751.3,232.23 L753.3,231.72 L755.3,231.22 L757.3,230.74 L759.3,230.28 L761.3,229.85 L763.3,229.45 L765.3,229.07 L767.3,228.73 L769.3,228.41 L771.3,228.11 L773.3,227.83 L775.3,227.56 L777.3,227.29 L779.3,227.02 L781.3,226.74 L783.3,226.43 L785.3,226.10 L787.3,225.74 L789.3,225.33 L791.3,224.88 L793.3,224.39 L795.3,223.85 L797.3,223.26 L799.3,222.64 L801.3,221.98 L803.3,221.29 L805.3,220.58 L807.3,219.86 L809.3,219.15 L811.3,218.45 L813.3,217.78 L815.3,217.15 L817.3,216.58 L819.3,216.07 L821.3,215.64 L823.3,215.31 L825.3,215.08 L827.3,214.98 L829.3,215.00 L831.3,215.16 L833.3,215.48 L835.3,215.96 L837.3,216.60 L839.3,217.42 L841.3,218.42 L843.3,219.60 L845.3,220.94 L847.3,222.46 L849.3,224.12 L851.3,225.92 L853.3,227.82 L855.3,229.81 L857.3,231.84 L859.3,233.89 L861.3,235.90 L863.3,237.85 L865.3,239.70 L867.3,241.39 L869.3,242.90 L871.3,244.20 L873.3,245.27 L875.3,246.08 L877.3,246.63 L879.3,246.91 L881.3,246.94 L883.3,246.73 L885.3,246.30 L887.3,245.70 L889.3,244.94 L891.3,244.07 L893.3,243.13 L895.3,242.16 L897.3,241.21 L899.3,240.30 L901.3,239.47 L903.3,238.74 L905.3,238.15 L907.3,237.71 L909.3,237.43 L911.3,237.30 L913.3,237.34 L915.3,237.54 L917.3,237.88 L919.3,238.36 L921.3,238.94 L923.3,239.62 L925.3,240.38 L927.3,241.19 L929.3,242.04 L931.3,242.90 L933.3,243.76 L935.3,244.60 L937.3,245.41 L939.3,246.18 L941.3,246.91 L943.3,247.60 L945.3,248.24 L947.3,248.83 L949.3,249.38 L951.3,249.89 L953.3,250.37 L955.3,250.82 L957.3,251.25 L959.3,251.67 L961.3,252.08 L963.3,252.48 L965.3,252.87 L967.3,253.27 L969.3,253.66 L971.3,254.05 L973.3,254.44 L975.3,254.83 L977.3,255.22 L979.3,255.60 L981.3,255.98 L983.3,256.36 L985.3,256.73 L987.3,257.10 L989.3,257.46 L991.3,257.81 L993.3,258.15 L995.3,258.48 L997.3,258.79 L999.3,259.08 L1001.3,259.35 L1003.3,259.59 L1005.3,259.81 L1007.3,259.99 L1009.3,260.13 L1011.3,260.24 L1013.3,260.31 L1015.3,260.34 L1017.3,260.34 L1019.3,260.31 L1021.3,260.24 L1023.3,260.15 L1025.3,260.05 L1027.3,259.93 L1029.3,259.81 L1031.3,259.68 L1033.3,259.56 L1035.3,259.44 L1037.3,259.34 L1039.3,259.26 L1041.3,259.19 L1043.3,259.14 L1045.3,259.11 L1047.3,259.10 L1049.3,259.10 L1051.3,259.13 L1053.3,259.16 L1055.3,259.21 L1057.3,259.27 L1059.3,259.34 L1061.3,259.41 L1063.3,259.49 L1065.3,259.57 L1067.3,259.66 L1069.3,259.75 L1071.3,259.84 L1073.3,259.93 L1075.3,260.02 L1077.3,260.11 L1079.3,260.20 L1081.3,260.28 L1083.3,260.37 L1085.3,260.45 L1087.3,260.53 L1089.3,260.60 L1091.3,260.67 L1093.3,260.74 L1095.3,260.81 L1097.3,260.87 L1099.3,260.94 L1101.3,260.99 L1103.3,261.05 L1105.3,261.11 L1107.3,261.16 L1109.3,261.22 L1111.3,261.28 L1113.3,261.33 L1115.3,261.39 L1117.3,261.45 L1119.3,261.51 L1121.3,261.57 L1123.3,261.63 L1125.3,261.69 L1127.3,261.75 L1129.3,261.80 L1131.3,261.86 L1133.3,261.91 L1135.3,261.96 L1137.3,262.00 L1139.3,262.04 L1141.3,262.08 L1143.3,262.11 L1145.3,262.14 L1147.3,262.16 L1149.3,262.18 L1151.3,262.20 L1153.3,262.21 L1155.3,262.22 L1157.3,262.23 L1159.3,262.23 L1161.3,262.24 L1163.3,262.24 L1165.3,262.24 L1167.3,262.25 L1169.3,262.25 L1171.3,262.25 L1173.3,262.25 L1175.3,262.25 L1177.3,262.25 L1179.3,262.25 L1181.3,262.25 L1183.3,262.25 L1185.3,262.25 L1187.3,262.25 L1189.3,262.25 L1191.3,262.25 L1193.3,262.25 L1195.3,262.25 L1197.3,262.25 L1199.3,262.25 L1201.3,262.25 L1203.3,262.25 L1205.3,262.25 L1207.3,262.25 L1209.3,262.25 L1211.3,262.25 L1213.3,262.25 L1215.3,262.25 L1217.3,262.25 L1219.3,262.25 L1221.3,262.25 L1223.3,262.25 L1225.3,262.25 L1227.3,262.25 L1229.3,262.25 L1231.3,262.25 L1233.3,262.25 L1235.3,262.25 L1237.3,262.25 L1239.3,262.25 L1241.3,262.25 L1243.3,262.25 L1245.3,262.25 L1247.3,262.25 L1249.3,262.25 L1251.3,262.25 L1253.3,262.25 L1255.3,262.25 L1257.3,262.25 L1259.3,262.25 L1261.3,262.25 L1263.3,262.25 L1265.3,262.25 L1267.3,262.25 L1269.3,262.25 L1271.3,262.25 L1273.3,262.25 L1275.3,262.25 L1277.3,262.25 L1279.3,262.25 L1281.3,262.25 L1283.3,262.25 L1285.3,262.25 L1287.3,262.25 L1289.3,262.25 L1291.3,262.25 L1293.3,262.25 L1295.3,262.25 L1297.3,262.25 L1298.3,262.25 L1298.3,262.25 L467.3,262.25 Z" fill="#38C0C3" fill-opacity="0.7" stroke="none"/>
<path d="M467.3,262.25 L469.3,262.25 L471.3,262.25 L473.3,262.25 L475.3,262.25 L477.3,262.24 L479.3,262.24 L481.3,262.24 L483.3,262.24 L485.3,262.23 L487.3,262.22 L489.3,262.22 L491.3,262.21 L493.3,262.20 L495.3,262.19 L497.3,262.17 L499.3,262.16 L501.3,262.15 L503.3,262.13 L505.3,262.12 L507.3,262.11 L509.3,262.10 L511.3,262.10 L513.3,262.09 L515.3,262.09 L517.3,262.10 L519.3,262.10 L521.3,262.11 L523.3,262.12 L525.3,262.13 L527.3,262.14 L529.3,262.16 L531.3,262.17 L533.3,262.18 L535.3,262.19 L537.3,262.20 L539.3,262.20 L541.3,262.21 L543.3,262.21 L545.3,262.21 L547.3,262.20 L549.3,262.19 L551.3,262.18 L553.3,262.16 L555.3,262.13 L557.3,262.10 L559.3,262.06 L561.3,262.00 L563.3,261.93 L565.3,261.84 L567.3,261.73 L569.3,261.59 L571.3,261.42 L573.3,261.21 L575.3,260.95 L577.3,260.65 L579.3,260.30 L581.3,259.89 L583.3,259.42 L585.3,258.88 L587.3,258.28 L589.3,257.62 L591.3,256.90 L593.3,256.12 L595.3,255.28 L597.3,254.40 L599.3,253.47 L601.3,252.51 L603.3,251.52 L605.3,250.52 L607.3,249.51 L609.3,248.50 L611.3,247.50 L613.3,246.51 L615.3,245.56 L617.3,244.63 L619.3,243.74 L621.3,242.90 L623.3,242.10 L625.3,241.35 L627.3,240.65 L629.3,240.00 L631.3,239.40 L633.3,238.85 L635.3,238.35 L637.3,237.89 L639.3,237.48 L641.3,237.10 L643.3,236.78 L645.3,236.49 L647.3,236.25 L649.3,236.05 L651.3,235.91 L653.3,235.81 L655.3,235.76 L657.3,235.76 L659.3,235.81 L661.3,235.91 L663.3,236.06 L665.3,236.24 L667.3,236.47 L669.3,236.71 L671.3,236.97 L673.3,237.23 L675.3,237.48 L677.3,237.71 L679.3,237.91 L681.3,238.06 L683.3,238.16 L685.3,238.20 L687.3,238.18 L689.3,238.10 L691.3,237.96 L693.3,237.78 L695.3,237.56 L697.3,237.30 L699.3,237.04 L701.3,236.77 L703.3,236.51 L705.3,236.27 L707.3,236.07 L709.3,235.90 L711.3,235.78 L713.3,235.71 L715.3,235.67 L717.3,235.67 L719.3,235.70 L721.3,235.74 L723.3,235.78 L725.3,235.81 L727.3,235.83 L729.3,235.80 L731.3,235.73 L733.3,235.61 L735.3,235.43 L737.3,235.19 L739.3,234.90 L741.3,234.54 L743.3,234.14 L745.3,233.70 L747.3,233.23 L749.3,232.73 L751.3,232.23 L753.3,231.72 L755.3,231.22 L757.3,230.74 L759.3,230.28 L761.3,229.85 L763.3,229.45 L765.3,229.07 L767.3,228.73 L769.3,228.41 L771.3,228.11 L773.3,227.83 L775.3,227.56 L777.3,227.29 L779.3,227.02 L781.3,226.74 L783.3,226.43 L785.3,226.10 L787.3,225.74 L789.3,225.33 L791.3,224.88 L793.3,224.39 L795.3,223.85 L797.3,223.26 L799.3,222.64 L801.3,221.98 L803.3,221.29 L805.3,220.58 L807.3,219.86 L809.3,219.15 L811.3,218.45 L813.3,217.78 L815.3,217.15 L817.3,216.58 L819.3,216.07 L821.3,215.64 L823.3,215.31 L825.3,215.08 L827.3,214.98 L829.3,215.00 L831.3,215.16 L833.3,215.48 L835.3,215.96 L837.3,216.60 L839.3,217.42 L841.3,218.42 L843.3,219.60 L845.3,220.94 L847.3,222.46 L849.3,224.12 L851.3,225.92 L853.3,227.82 L855.3,229.81 L857.3,231.84 L859.3,233.89 L861.3,235.90 L863.3,237.85 L865.3,239.70 L867.3,241.39 L869.3,242.90 L871.3,244.20 L873.3,245.27 L875.3,246.08 L877.3,246.63 L879.3,246.91 L881.3,246.94 L883.3,246.73 L885.3,246.30 L887.3,245.70 L889.3,244.94 L891.3,244.07 L893.3,243.13 L895.3,242.16 L897.3,241.21 L899.3,240.30 L901.3,239.47 L903.3,238.74 L905.3,238.15 L907.3,237.71 L909.3,237.43 L911.3,237.30 L913.3,237.34 L915.3,237.54 L917.3,237.88 L919.3,238.36 L921.3,238.94 L923.3,239.62 L925.3,240.38 L927.3,241.19 L929.3,242.04 L931.3,242.90 L933.3,243.76 L935.3,244.60 L937.3,245.41 L939.3,246.18 L941.3,246.91 L943.3,247.60 L945.3,248.24 L947.3,248.83 L949.3,249.38 L951.3,249.89 L953.3,250.37 L955.3,250.82 L957.3,251.25 L959.3,251.67 L961.3,252.08 L963.3,252.48 L965.3,252.87 L967.3,253.27 L969.3,253.66 L971.3,254.05 L973.3,254.44 L975.3,254.83 L977.3,255.22 L979.3,255.60 L981.3,255.98 L983.3,256.36 L985.3,256.73 L987.3,257.10 L989.3,257.46 L991.3,257.81 L993.3,258.15 L995.3,258.48 L997.3,258.79 L999.3,259.08 L1001.3,259.35 L1003.3,259.59 L1005.3,259.81 L1007.3,259.99 L1009.3,260.13 L1011.3,260.24 L1013.3,260.31 L1015.3,260.34 L1017.3,260.34 L1019.3,260.31 L1021.3,260.24 L1023.3,260.15 L1025.3,260.05 L1027.3,259.93 L1029.3,259.81 L1031.3,259.68 L1033.3,259.56 L1035.3,259.44 L1037.3,259.34 L1039.3,259.26 L1041.3,259.19 L1043.3,259.14 L1045.3,259.11 L1047.3,259.10 L1049.3,259.10 L1051.3,259.13 L1053.3,259.16 L1055.3,259.21 L1057.3,259.27 L1059.3,259.34 L1061.3,259.41 L1063.3,259.49 L1065.3,259.57 L1067.3,259.66 L1069.3,259.75 L1071.3,259.84 L1073.3,259.93 L1075.3,260.02 L1077.3,260.11 L1079.3,260.20 L1081.3,260.28 L1083.3,260.37 L1085.3,260.45 L1087.3,260.53 L1089.3,260.60 L1091.3,260.67 L1093.3,260.74 L1095.3,260.81 L1097.3,260.87 L1099.3,260.94 L1101.3,260.99 L1103.3,261.05 L1105.3,261.11 L1107.3,261.16 L1109.3,261.22 L1111.3,261.28 L1113.3,261.33 L1115.3,261.39 L1117.3,261.45 L1119.3,261.51 L1121.3,261.57 L1123.3,261.63 L1125.3,261.69 L1127.3,261.75 L1129.3,261.80 L1131.3,261.86 L1133.3,261.91 L1135.3,261.96 L1137.3,262.00 L1139.3,262.04 L1141.3,262.08 L1143.3,262.11 L1145.3,262.14 L1147.3,262.16 L1149.3,262.18 L1151.3,262.20 L1153.3,262.21 L1155.3,262.22 L1157.3,262.23 L1159.3,262.23 L1161.3,262.24 L1163.3,262.24 L1165.3,262.24 L1167.3,262.25 L1169.3,262.25 L1171.3,262.25 L1173.3,262.25 L1175.3,262.25 L1177.3,262.25 L1179.3,262.25 L1181.3,262.25 L1183.3,262.25 L1185.3,262.25 L1187.3,262.25 L1189.3,262.25 L1191.3,262.25 L1193.3,262.25 L1195.3,262.25 L1197.3,262.25 L1199.3,262.25 L1201.3,262.25 L1203.3,262.25 L1205.3,262.25 L1207.3,262.25 L1209.3,262.25 L1211.3,262.25 L1213.3,262.25 L1215.3,262.25 L1217.3,262.25 L1219.3,262.25 L1221.3,262.25 L1223.3,262.25 L1225.3,262.25 L1227.3,262.25 L1229.3,262.25 L1231.3,262.25 L1233.3,262.25 L1235.3,262.25 L1237.3,262.25 L1239.3,262.25 L1241.3,262.25 L1243.3,262.25 L1245.3,262.25 L1247.3,262.25 L1249.3,262.25 L1251.3,262.25 L1253.3,262.25 L1255.3,262.25 L1257.3,262.25 L1259.3,262.25 L1261.3,262.25 L1263.3,262.25 L1265.3,262.25 L1267.3,262.25 L1269.3,262.25 L1271.3,262.25 L1273.3,262.25 L1275.3,262.25 L1277.3,262.25 L1279.3,262.25 L1281.3,262.25 L1283.3,262.25 L1285.3,262.25 L1287.3,262.25 L1289.3,262.25 L1291.3,262.25 L1293.3,262.25 L1295.3,262.25 L1297.3,262.25 L1298.3,262.25" fill="none" stroke="#000" stroke-width="3.1" stroke-linecap="round" stroke-linejoin="round"/>
<line x1="653.75" y1="262.25" x2="653.75" y2="235.79" stroke="#000" stroke-width="3.1"/>
<line x1="795.50" y1="262.25" x2="795.50" y2="223.79" stroke="#000" stroke-width="3.1"/>
<line x1="921.40" y1="262.25" x2="921.40" y2="238.97" stroke="#000" stroke-width="3.1"/>
<path d="M467.3,346.62 L469.3,346.62 L471.3,346.62 L473.3,346.62 L475.3,346.62 L477.3,346.62 L479.3,346.61 L481.3,346.61 L483.3,346.60 L485.3,346.60 L487.3,346.59 L489.3,346.58 L491.3,346.56 L493.3,346.55 L495.3,346.53 L497.3,346.51 L499.3,346.49 L501.3,346.47 L503.3,346.45 L505.3,346.43 L507.3,346.42 L509.3,346.40 L511.3,346.39 L513.3,346.39 L515.3,346.39 L517.3,346.39 L519.3,346.40 L521.3,346.41 L523.3,346.43 L525.3,346.45 L527.3,346.47 L529.3,346.49 L531.3,346.51 L533.3,346.52 L535.3,346.54 L537.3,346.55 L539.3,346.56 L541.3,346.57 L543.3,346.57 L545.3,346.56 L547.3,346.55 L549.3,346.53 L551.3,346.50 L553.3,346.47 L555.3,346.42 L557.3,346.36 L559.3,346.29 L561.3,346.21 L563.3,346.11 L565.3,345.99 L567.3,345.86 L569.3,345.71 L571.3,345.55 L573.3,345.37 L575.3,345.18 L577.3,344.97 L579.3,344.75 L581.3,344.52 L583.3,344.28 L585.3,344.02 L587.3,343.75 L589.3,343.46 L591.3,343.15 L593.3,342.83 L595.3,342.48 L597.3,342.11 L599.3,341.72 L601.3,341.30 L603.3,340.85 L605.3,340.38 L607.3,339.88 L609.3,339.36 L611.3,338.82 L613.3,338.27 L615.3,337.70 L617.3,337.12 L619.3,336.54 L621.3,335.96 L623.3,335.40 L625.3,334.85 L627.3,334.32 L629.3,333.82 L631.3,333.36 L633.3,332.94 L635.3,332.57 L637.3,332.26 L639.3,332.01 L641.3,331.82 L643.3,331.71 L645.3,331.67 L647.3,331.70 L649.3,331.81 L651.3,331.99 L653.3,332.24 L655.3,332.54 L657.3,332.90 L659.3,333.30 L661.3,333.73 L663.3,334.16 L665.3,334.60 L667.3,335.03 L669.3,335.42 L671.3,335.78 L673.3,336.09 L675.3,336.34 L677.3,336.52 L679.3,336.64 L681.3,336.69 L683.3,336.67 L685.3,336.59 L687.3,336.45 L689.3,336.26 L691.3,336.02 L693.3,335.75 L695.3,335.44 L697.3,335.11 L699.3,334.75 L701.3,334.38 L703.3,333.98 L705.3,333.57 L707.3,333.15 L709.3,332.71 L711.3,332.25 L713.3,331.78 L715.3,331.29 L717.3,330.78 L719.3,330.26 L721.3,329.72 L723.3,329.16 L725.3,328.59 L727.3,328.01 L729.3,327.40 L731.3,326.78 L733.3,326.14 L735.3,325.47 L737.3,324.78 L739.3,324.05 L741.3,323.28 L743.3,322.47 L745.3,321.61 L747.3,320.69 L749.3,319.72 L751.3,318.69 L753.3,317.60 L755.3,316.47 L757.3,315.28 L759.3,314.07 L761.3,312.83 L763.3,311.59 L765.3,310.37 L767.3,309.17 L769.3,308.03 L771.3,306.95 L773.3,305.97 L775.3,305.10 L777.3,304.35 L779.3,303.73 L781.3,303.25 L783.3,302.91 L785.3,302.71 L787.3,302.64 L789.3,302.69 L791.3,302.84 L793.3,303.07 L795.3,303.35 L797.3,303.67 L799.3,304.00 L801.3,304.31 L803.3,304.58 L805.3,304.79 L807.3,304.93 L809.3,304.98 L811.3,304.93 L813.3,304.78 L815.3,304.53 L817.3,304.19 L819.3,303.76 L821.3,303.25 L823.3,302.67 L825.3,302.03 L827.3,301.34 L829.3,300.61 L831.3,299.85 L833.3,299.07 L835.3,298.28 L837.3,297.48 L839.3,296.68 L841.3,295.89 L843.3,295.11 L845.3,294.36 L847.3,293.66 L849.3,293.01 L851.3,292.43 L853.3,291.95 L855.3,291.57 L857.3,291.33 L859.3,291.24 L861.3,291.31 L863.3,291.57 L865.3,292.01 L867.3,292.65 L869.3,293.48 L871.3,294.50 L873.3,295.69 L875.3,297.04 L877.3,298.53 L879.3,300.12 L881.3,301.79 L883.3,303.52 L885.3,305.27 L887.3,307.01 L889.3,308.72 L891.3,310.38 L893.3,311.96 L895.3,313.44 L897.3,314.82 L899.3,316.09 L901.3,317.25 L903.3,318.28 L905.3,319.21 L907.3,320.03 L909.3,320.74 L911.3,321.37 L913.3,321.93 L915.3,322.41 L917.3,322.85 L919.3,323.25 L921.3,323.63 L923.3,324.00 L925.3,324.37 L927.3,324.76 L929.3,325.17 L931.3,325.62 L933.3,326.11 L935.3,326.65 L937.3,327.25 L939.3,327.89 L941.3,328.59 L943.3,329.34 L945.3,330.13 L947.3,330.97 L949.3,331.83 L951.3,332.72 L953.3,333.62 L955.3,334.53 L957.3,335.42 L959.3,336.30 L961.3,337.14 L963.3,337.94 L965.3,338.70 L967.3,339.39 L969.3,340.02 L971.3,340.57 L973.3,341.05 L975.3,341.46 L977.3,341.78 L979.3,342.02 L981.3,342.19 L983.3,342.28 L985.3,342.30 L987.3,342.27 L989.3,342.18 L991.3,342.06 L993.3,341.90 L995.3,341.73 L997.3,341.56 L999.3,341.40 L1001.3,341.26 L1003.3,341.16 L1005.3,341.11 L1007.3,341.11 L1009.3,341.17 L1011.3,341.28 L1013.3,341.46 L1015.3,341.70 L1017.3,341.99 L1019.3,342.32 L1021.3,342.67 L1023.3,343.05 L1025.3,343.44 L1027.3,343.82 L1029.3,344.20 L1031.3,344.55 L1033.3,344.87 L1035.3,345.16 L1037.3,345.41 L1039.3,345.63 L1041.3,345.82 L1043.3,345.97 L1045.3,346.10 L1047.3,346.20 L1049.3,346.28 L1051.3,346.34 L1053.3,346.39 L1055.3,346.42 L1057.3,346.45 L1059.3,346.48 L1061.3,346.50 L1063.3,346.52 L1065.3,346.53 L1067.3,346.55 L1069.3,346.56 L1071.3,346.57 L1073.3,346.58 L1075.3,346.59 L1077.3,346.60 L1079.3,346.60 L1081.3,346.61 L1083.3,346.61 L1085.3,346.62 L1087.3,346.62 L1089.3,346.62 L1091.3,346.62 L1093.3,346.62 L1095.3,346.62 L1097.3,346.62 L1099.3,346.62 L1101.3,346.62 L1103.3,346.62 L1105.3,346.62 L1107.3,346.62 L1109.3,346.62 L1111.3,346.62 L1113.3,346.62 L1115.3,346.62 L1117.3,346.62 L1119.3,346.62 L1121.3,346.62 L1123.3,346.62 L1125.3,346.62 L1127.3,346.62 L1129.3,346.62 L1131.3,346.62 L1133.3,346.62 L1135.3,346.62 L1137.3,346.62 L1139.3,346.62 L1141.3,346.62 L1143.3,346.62 L1145.3,346.62 L1147.3,346.62 L1149.3,346.62 L1151.3,346.62 L1153.3,346.62 L1155.3,346.62 L1157.3,346.62 L1159.3,346.62 L1161.3,346.62 L1163.3,346.62 L1165.3,346.62 L1167.3,346.62 L1169.3,346.62 L1171.3,346.62 L1173.3,346.62 L1175.3,346.62 L1177.3,346.62 L1179.3,346.62 L1181.3,346.62 L1183.3,346.62 L1185.3,346.62 L1187.3,346.62 L1189.3,346.62 L1191.3,346.62 L1193.3,346.62 L1195.3,346.62 L1197.3,346.62 L1199.3,346.62 L1201.3,346.62 L1203.3,346.62 L1205.3,346.62 L1207.3,346.62 L1209.3,346.62 L1211.3,346.62 L1213.3,346.62 L1215.3,346.62 L1217.3,346.62 L1219.3,346.62 L1221.3,346.62 L1223.3,346.62 L1225.3,346.62 L1227.3,346.62 L1229.3,346.62 L1231.3,346.62 L1233.3,346.62 L1235.3,346.62 L1237.3,346.62 L1239.3,346.62 L1241.3,346.62 L1243.3,346.62 L1245.3,346.62 L1247.3,346.62 L1249.3,346.62 L1251.3,346.62 L1253.3,346.62 L1255.3,346.62 L1257.3,346.62 L1259.3,346.62 L1261.3,346.62 L1263.3,346.62 L1265.3,346.62 L1267.3,346.62 L1269.3,346.62 L1271.3,346.62 L1273.3,346.62 L1275.3,346.62 L1277.3,346.62 L1279.3,346.62 L1281.3,346.62 L1283.3,346.62 L1285.3,346.62 L1287.3,346.62 L1289.3,346.62 L1291.3,346.62 L1293.3,346.62 L1295.3,346.62 L1297.3,346.62 L1298.3,346.62 L1298.3,346.625 L467.3,346.625 Z" fill="#38BC4A" fill-opacity="0.7" stroke="none"/>
<path d="M467.3,346.62 L469.3,346.62 L471.3,346.62 L473.3,346.62 L475.3,346.62 L477.3,346.62 L479.3,346.61 L481.3,346.61 L483.3,346.60 L485.3,346.60 L487.3,346.59 L489.3,346.58 L491.3,346.56 L493.3,346.55 L495.3,346.53 L497.3,346.51 L499.3,346.49 L501.3,346.47 L503.3,346.45 L505.3,346.43 L507.3,346.42 L509.3,346.40 L511.3,346.39 L513.3,346.39 L515.3,346.39 L517.3,346.39 L519.3,346.40 L521.3,346.41 L523.3,346.43 L525.3,346.45 L527.3,346.47 L529.3,346.49 L531.3,346.51 L533.3,346.52 L535.3,346.54 L537.3,346.55 L539.3,346.56 L541.3,346.57 L543.3,346.57 L545.3,346.56 L547.3,346.55 L549.3,346.53 L551.3,346.50 L553.3,346.47 L555.3,346.42 L557.3,346.36 L559.3,346.29 L561.3,346.21 L563.3,346.11 L565.3,345.99 L567.3,345.86 L569.3,345.71 L571.3,345.55 L573.3,345.37 L575.3,345.18 L577.3,344.97 L579.3,344.75 L581.3,344.52 L583.3,344.28 L585.3,344.02 L587.3,343.75 L589.3,343.46 L591.3,343.15 L593.3,342.83 L595.3,342.48 L597.3,342.11 L599.3,341.72 L601.3,341.30 L603.3,340.85 L605.3,340.38 L607.3,339.88 L609.3,339.36 L611.3,338.82 L613.3,338.27 L615.3,337.70 L617.3,337.12 L619.3,336.54 L621.3,335.96 L623.3,335.40 L625.3,334.85 L627.3,334.32 L629.3,333.82 L631.3,333.36 L633.3,332.94 L635.3,332.57 L637.3,332.26 L639.3,332.01 L641.3,331.82 L643.3,331.71 L645.3,331.67 L647.3,331.70 L649.3,331.81 L651.3,331.99 L653.3,332.24 L655.3,332.54 L657.3,332.90 L659.3,333.30 L661.3,333.73 L663.3,334.16 L665.3,334.60 L667.3,335.03 L669.3,335.42 L671.3,335.78 L673.3,336.09 L675.3,336.34 L677.3,336.52 L679.3,336.64 L681.3,336.69 L683.3,336.67 L685.3,336.59 L687.3,336.45 L689.3,336.26 L691.3,336.02 L693.3,335.75 L695.3,335.44 L697.3,335.11 L699.3,334.75 L701.3,334.38 L703.3,333.98 L705.3,333.57 L707.3,333.15 L709.3,332.71 L711.3,332.25 L713.3,331.78 L715.3,331.29 L717.3,330.78 L719.3,330.26 L721.3,329.72 L723.3,329.16 L725.3,328.59 L727.3,328.01 L729.3,327.40 L731.3,326.78 L733.3,326.14 L735.3,325.47 L737.3,324.78 L739.3,324.05 L741.3,323.28 L743.3,322.47 L745.3,321.61 L747.3,320.69 L749.3,319.72 L751.3,318.69 L753.3,317.60 L755.3,316.47 L757.3,315.28 L759.3,314.07 L761.3,312.83 L763.3,311.59 L765.3,310.37 L767.3,309.17 L769.3,308.03 L771.3,306.95 L773.3,305.97 L775.3,305.10 L777.3,304.35 L779.3,303.73 L781.3,303.25 L783.3,302.91 L785.3,302.71 L787.3,302.64 L789.3,302.69 L791.3,302.84 L793.3,303.07 L795.3,303.35 L797.3,303.67 L799.3,304.00 L801.3,304.31 L803.3,304.58 L805.3,304.79 L807.3,304.93 L809.3,304.98 L811.3,304.93 L813.3,304.78 L815.3,304.53 L817.3,304.19 L819.3,303.76 L821.3,303.25 L823.3,302.67 L825.3,302.03 L827.3,301.34 L829.3,300.61 L831.3,299.85 L833.3,299.07 L835.3,298.28 L837.3,297.48 L839.3,296.68 L841.3,295.89 L843.3,295.11 L845.3,294.36 L847.3,293.66 L849.3,293.01 L851.3,292.43 L853.3,291.95 L855.3,291.57 L857.3,291.33 L859.3,291.24 L861.3,291.31 L863.3,291.57 L865.3,292.01 L867.3,292.65 L869.3,293.48 L871.3,294.50 L873.3,295.69 L875.3,297.04 L877.3,298.53 L879.3,300.12 L881.3,301.79 L883.3,303.52 L885.3,305.27 L887.3,307.01 L889.3,308.72 L891.3,310.38 L893.3,311.96 L895.3,313.44 L897.3,314.82 L899.3,316.09 L901.3,317.25 L903.3,318.28 L905.3,319.21 L907.3,320.03 L909.3,320.74 L911.3,321.37 L913.3,321.93 L915.3,322.41 L917.3,322.85 L919.3,323.25 L921.3,323.63 L923.3,324.00 L925.3,324.37 L927.3,324.76 L929.3,325.17 L931.3,325.62 L933.3,326.11 L935.3,326.65 L937.3,327.25 L939.3,327.89 L941.3,328.59 L943.3,329.34 L945.3,330.13 L947.3,330.97 L949.3,331.83 L951.3,332.72 L953.3,333.62 L955.3,334.53 L957.3,335.42 L959.3,336.30 L961.3,337.14 L963.3,337.94 L965.3,338.70 L967.3,339.39 L969.3,340.02 L971.3,340.57 L973.3,341.05 L975.3,341.46 L977.3,341.78 L979.3,342.02 L981.3,342.19 L983.3,342.28 L985.3,342.30 L987.3,342.27 L989.3,342.18 L991.3,342.06 L993.3,341.90 L995.3,341.73 L997.3,341.56 L999.3,341.40 L1001.3,341.26 L1003.3,341.16 L1005.3,341.11 L1007.3,341.11 L1009.3,341.17 L1011.3,341.28 L1013.3,341.46 L1015.3,341.70 L1017.3,341.99 L1019.3,342.32 L1021.3,342.67 L1023.3,343.05 L1025.3,343.44 L1027.3,343.82 L1029.3,344.20 L1031.3,344.55 L1033.3,344.87 L1035.3,345.16 L1037.3,345.41 L1039.3,345.63 L1041.3,345.82 L1043.3,345.97 L1045.3,346.10 L1047.3,346.20 L1049.3,346.28 L1051.3,346.34 L1053.3,346.39 L1055.3,346.42 L1057.3,346.45 L1059.3,346.48 L1061.3,346.50 L1063.3,346.52 L1065.3,346.53 L1067.3,346.55 L1069.3,346.56 L1071.3,346.57 L1073.3,346.58 L1075.3,346.59 L1077.3,346.60 L1079.3,346.60 L1081.3,346.61 L1083.3,346.61 L1085.3,346.62 L1087.3,346.62 L1089.3,346.62 L1091.3,346.62 L1093.3,346.62 L1095.3,346.62 L1097.3,346.62 L1099.3,346.62 L1101.3,346.62 L1103.3,346.62 L1105.3,346.62 L1107.3,346.62 L1109.3,346.62 L1111.3,346.62 L1113.3,346.62 L1115.3,346.62 L1117.3,346.62 L1119.3,346.62 L1121.3,346.62 L1123.3,346.62 L1125.3,346.62 L1127.3,346.62 L1129.3,346.62 L1131.3,346.62 L1133.3,346.62 L1135.3,346.62 L1137.3,346.62 L1139.3,346.62 L1141.3,346.62 L1143.3,346.62 L1145.3,346.62 L1147.3,346.62 L1149.3,346.62 L1151.3,346.62 L1153.3,346.62 L1155.3,346.62 L1157.3,346.62 L1159.3,346.62 L1161.3,346.62 L1163.3,346.62 L1165.3,346.62 L1167.3,346.62 L1169.3,346.62 L1171.3,346.62 L1173.3,346.62 L1175.3,346.62 L1177.3,346.62 L1179.3,346.62 L1181.3,346.62 L1183.3,346.62 L1185.3,346.62 L1187.3,346.62 L1189.3,346.62 L1191.3,346.62 L1193.3,346.62 L1195.3,346.62 L1197.3,346.62 L1199.3,346.62 L1201.3,346.62 L1203.3,346.62 L1205.3,346.62 L1207.3,346.62 L1209.3,346.62 L1211.3,346.62 L1213.3,346.62 L1215.3,346.62 L1217.3,346.62 L1219.3,346.62 L1221.3,346.62 L1223.3,346.62 L1225.3,346.62 L1227.3,346.62 L1229.3,346.62 L1231.3,346.62 L1233.3,346.62 L1235.3,346.62 L1237.3,346.62 L1239.3,346.62 L1241.3,346.62 L1243.3,346.62 L1245.3,346.62 L1247.3,346.62 L1249.3,346.62 L1251.3,346.62 L1253.3,346.62 L1255.3,346.62 L1257.3,346.62 L1259.3,346.62 L1261.3,346.62 L1263.3,346.62 L1265.3,346.62 L1267.3,346.62 L1269.3,346.62 L1271.3,346.62 L1273.3,346.62 L1275.3,346.62 L1277.3,346.62 L1279.3,346.62 L1281.3,346.62 L1283.3,346.62 L1285.3,346.62 L1287.3,346.62 L1289.3,346.62 L1291.3,346.62 L1293.3,346.62 L1295.3,346.62 L1297.3,346.62 L1298.3,346.62" fill="none" stroke="#000" stroke-width="3.1" stroke-linecap="round" stroke-linejoin="round"/>
<line x1="698.50" y1="346.625" x2="698.50" y2="334.90" stroke="#000" stroke-width="3.1"/>
<line x1="829.40" y1="346.625" x2="829.40" y2="300.57" stroke="#000" stroke-width="3.1"/>
<line x1="923.25" y1="346.625" x2="923.25" y2="323.99" stroke="#000" stroke-width="3.1"/>
<path d="M467.3,431.00 L469.3,431.00 L471.3,431.00 L473.3,431.00 L475.3,430.99 L477.3,430.99 L479.3,430.99 L481.3,430.98 L483.3,430.97 L485.3,430.96 L487.3,430.95 L489.3,430.93 L491.3,430.92 L493.3,430.90 L495.3,430.87 L497.3,430.85 L499.3,430.82 L501.3,430.79 L503.3,430.77 L505.3,430.74 L507.3,430.72 L509.3,430.70 L511.3,430.69 L513.3,430.68 L515.3,430.68 L517.3,430.69 L519.3,430.70 L521.3,430.72 L523.3,430.74 L525.3,430.76 L527.3,430.79 L529.3,430.81 L531.3,430.84 L533.3,430.86 L535.3,430.89 L537.3,430.91 L539.3,430.92 L541.3,430.93 L543.3,430.94 L545.3,430.94 L547.3,430.93 L549.3,430.91 L551.3,430.89 L553.3,430.85 L555.3,430.80 L557.3,430.73 L559.3,430.64 L561.3,430.53 L563.3,430.39 L565.3,430.22 L567.3,430.02 L569.3,429.78 L571.3,429.50 L573.3,429.18 L575.3,428.83 L577.3,428.44 L579.3,428.01 L581.3,427.55 L583.3,427.07 L585.3,426.56 L587.3,426.03 L589.3,425.49 L591.3,424.94 L593.3,424.38 L595.3,423.83 L597.3,423.27 L599.3,422.71 L601.3,422.15 L603.3,421.60 L605.3,421.05 L607.3,420.51 L609.3,419.97 L611.3,419.43 L613.3,418.90 L615.3,418.37 L617.3,417.85 L619.3,417.33 L621.3,416.82 L623.3,416.32 L625.3,415.83 L627.3,415.36 L629.3,414.90 L631.3,414.46 L633.3,414.04 L635.3,413.64 L637.3,413.26 L639.3,412.89 L641.3,412.55 L643.3,412.21 L645.3,411.88 L647.3,411.54 L649.3,411.20 L651.3,410.84 L653.3,410.45 L655.3,410.01 L657.3,409.53 L659.3,408.99 L661.3,408.39 L663.3,407.71 L665.3,406.97 L667.3,406.16 L669.3,405.28 L671.3,404.35 L673.3,403.37 L675.3,402.38 L677.3,401.37 L679.3,400.37 L681.3,399.41 L683.3,398.51 L685.3,397.68 L687.3,396.94 L689.3,396.31 L691.3,395.80 L693.3,395.42 L695.3,395.16 L697.3,395.01 L699.3,394.98 L701.3,395.04 L703.3,395.18 L705.3,395.37 L707.3,395.59 L709.3,395.81 L711.3,396.02 L713.3,396.19 L715.3,396.29 L717.3,396.33 L719.3,396.28 L721.3,396.13 L723.3,395.90 L725.3,395.58 L727.3,395.18 L729.3,394.71 L731.3,394.19 L733.3,393.64 L735.3,393.07 L737.3,392.51 L739.3,391.98 L741.3,391.49 L743.3,391.07 L745.3,390.72 L747.3,390.46 L749.3,390.30 L751.3,390.24 L753.3,390.29 L755.3,390.45 L757.3,390.72 L759.3,391.09 L761.3,391.56 L763.3,392.11 L765.3,392.74 L767.3,393.44 L769.3,394.19 L771.3,394.98 L773.3,395.79 L775.3,396.62 L777.3,397.45 L779.3,398.27 L781.3,399.07 L783.3,399.83 L785.3,400.55 L787.3,401.21 L789.3,401.82 L791.3,402.36 L793.3,402.83 L795.3,403.22 L797.3,403.54 L799.3,403.79 L801.3,403.97 L803.3,404.09 L805.3,404.15 L807.3,404.16 L809.3,404.15 L811.3,404.12 L813.3,404.09 L815.3,404.08 L817.3,404.11 L819.3,404.18 L821.3,404.32 L823.3,404.54 L825.3,404.84 L827.3,405.24 L829.3,405.73 L831.3,406.32 L833.3,407.01 L835.3,407.78 L837.3,408.62 L839.3,409.54 L841.3,410.50 L843.3,411.51 L845.3,412.53 L847.3,413.57 L849.3,414.61 L851.3,415.62 L853.3,416.61 L855.3,417.55 L857.3,418.45 L859.3,419.28 L861.3,420.04 L863.3,420.73 L865.3,421.33 L867.3,421.85 L869.3,422.27 L871.3,422.60 L873.3,422.84 L875.3,422.99 L877.3,423.05 L879.3,423.04 L881.3,422.94 L883.3,422.79 L885.3,422.58 L887.3,422.34 L889.3,422.06 L891.3,421.76 L893.3,421.46 L895.3,421.15 L897.3,420.85 L899.3,420.57 L901.3,420.29 L903.3,420.02 L905.3,419.77 L907.3,419.53 L909.3,419.29 L911.3,419.05 L913.3,418.81 L915.3,418.57 L917.3,418.32 L919.3,418.08 L921.3,417.84 L923.3,417.61 L925.3,417.39 L927.3,417.21 L929.3,417.05 L931.3,416.93 L933.3,416.87 L935.3,416.85 L937.3,416.90 L939.3,417.00 L941.3,417.16 L943.3,417.37 L945.3,417.64 L947.3,417.94 L949.3,418.29 L951.3,418.65 L953.3,419.04 L955.3,419.43 L957.3,419.82 L959.3,420.21 L961.3,420.58 L963.3,420.92 L965.3,421.25 L967.3,421.54 L969.3,421.80 L971.3,422.02 L973.3,422.21 L975.3,422.35 L977.3,422.46 L979.3,422.53 L981.3,422.55 L983.3,422.54 L985.3,422.49 L987.3,422.40 L989.3,422.28 L991.3,422.13 L993.3,421.95 L995.3,421.75 L997.3,421.54 L999.3,421.31 L1001.3,421.09 L1003.3,420.87 L1005.3,420.66 L1007.3,420.46 L1009.3,420.28 L1011.3,420.13 L1013.3,420.00 L1015.3,419.90 L1017.3,419.83 L1019.3,419.79 L1021.3,419.77 L1023.3,419.77 L1025.3,419.80 L1027.3,419.85 L1029.3,419.91 L1031.3,420.00 L1033.3,420.10 L1035.3,420.22 L1037.3,420.36 L1039.3,420.53 L1041.3,420.71 L1043.3,420.92 L1045.3,421.16 L1047.3,421.43 L1049.3,421.72 L1051.3,422.03 L1053.3,422.36 L1055.3,422.71 L1057.3,423.06 L1059.3,423.41 L1061.3,423.74 L1063.3,424.06 L1065.3,424.35 L1067.3,424.59 L1069.3,424.80 L1071.3,424.95 L1073.3,425.04 L1075.3,425.08 L1077.3,425.06 L1079.3,424.99 L1081.3,424.86 L1083.3,424.69 L1085.3,424.47 L1087.3,424.22 L1089.3,423.95 L1091.3,423.67 L1093.3,423.37 L1095.3,423.08 L1097.3,422.80 L1099.3,422.55 L1101.3,422.32 L1103.3,422.13 L1105.3,422.00 L1107.3,421.92 L1109.3,421.90 L1111.3,421.95 L1113.3,422.08 L1115.3,422.28 L1117.3,422.55 L1119.3,422.90 L1121.3,423.31 L1123.3,423.77 L1125.3,424.29 L1127.3,424.83 L1129.3,425.40 L1131.3,425.98 L1133.3,426.55 L1135.3,427.10 L1137.3,427.63 L1139.3,428.11 L1141.3,428.54 L1143.3,428.92 L1145.3,429.23 L1147.3,429.49 L1149.3,429.68 L1151.3,429.82 L1153.3,429.89 L1155.3,429.92 L1157.3,429.89 L1159.3,429.81 L1161.3,429.70 L1163.3,429.54 L1165.3,429.36 L1167.3,429.14 L1169.3,428.90 L1171.3,428.63 L1173.3,428.35 L1175.3,428.05 L1177.3,427.74 L1179.3,427.42 L1181.3,427.09 L1183.3,426.76 L1185.3,426.44 L1187.3,426.12 L1189.3,425.82 L1191.3,425.54 L1193.3,425.27 L1195.3,425.04 L1197.3,424.84 L1199.3,424.69 L1201.3,424.57 L1203.3,424.50 L1205.3,424.48 L1207.3,424.50 L1209.3,424.58 L1211.3,424.70 L1213.3,424.86 L1215.3,425.06 L1217.3,425.29 L1219.3,425.55 L1221.3,425.83 L1223.3,426.12 L1225.3,426.42 L1227.3,426.72 L1229.3,427.02 L1231.3,427.31 L1233.3,427.58 L1235.3,427.83 L1237.3,428.06 L1239.3,428.27 L1241.3,428.45 L1243.3,428.62 L1245.3,428.76 L1247.3,428.88 L1249.3,428.99 L1251.3,429.08 L1253.3,429.17 L1255.3,429.24 L1257.3,429.32 L1259.3,429.39 L1261.3,429.46 L1263.3,429.54 L1265.3,429.62 L1267.3,429.71 L1269.3,429.80 L1271.3,429.90 L1273.3,430.00 L1275.3,430.10 L1277.3,430.20 L1279.3,430.30 L1281.3,430.39 L1283.3,430.48 L1285.3,430.57 L1287.3,430.64 L1289.3,430.71 L1291.3,430.77 L1293.3,430.82 L1295.3,430.86 L1297.3,430.89 L1298.3,430.91 L1298.3,431.0 L467.3,431.0 Z" fill="#F25CE0" fill-opacity="0.7" stroke="none"/>
<path d="M467.3,431.00 L469.3,431.00 L471.3,431.00 L473.3,431.00 L475.3,430.99 L477.3,430.99 L479.3,430.99 L481.3,430.98 L483.3,430.97 L485.3,430.96 L487.3,430.95 L489.3,430.93 L491.3,430.92 L493.3,430.90 L495.3,430.87 L497.3,430.85 L499.3,430.82 L501.3,430.79 L503.3,430.77 L505.3,430.74 L507.3,430.72 L509.3,430.70 L511.3,430.69 L513.3,430.68 L515.3,430.68 L517.3,430.69 L519.3,430.70 L521.3,430.72 L523.3,430.74 L525.3,430.76 L527.3,430.79 L529.3,430.81 L531.3,430.84 L533.3,430.86 L535.3,430.89 L537.3,430.91 L539.3,430.92 L541.3,430.93 L543.3,430.94 L545.3,430.94 L547.3,430.93 L549.3,430.91 L551.3,430.89 L553.3,430.85 L555.3,430.80 L557.3,430.73 L559.3,430.64 L561.3,430.53 L563.3,430.39 L565.3,430.22 L567.3,430.02 L569.3,429.78 L571.3,429.50 L573.3,429.18 L575.3,428.83 L577.3,428.44 L579.3,428.01 L581.3,427.55 L583.3,427.07 L585.3,426.56 L587.3,426.03 L589.3,425.49 L591.3,424.94 L593.3,424.38 L595.3,423.83 L597.3,423.27 L599.3,422.71 L601.3,422.15 L603.3,421.60 L605.3,421.05 L607.3,420.51 L609.3,419.97 L611.3,419.43 L613.3,418.90 L615.3,418.37 L617.3,417.85 L619.3,417.33 L621.3,416.82 L623.3,416.32 L625.3,415.83 L627.3,415.36 L629.3,414.90 L631.3,414.46 L633.3,414.04 L635.3,413.64 L637.3,413.26 L639.3,412.89 L641.3,412.55 L643.3,412.21 L645.3,411.88 L647.3,411.54 L649.3,411.20 L651.3,410.84 L653.3,410.45 L655.3,410.01 L657.3,409.53 L659.3,408.99 L661.3,408.39 L663.3,407.71 L665.3,406.97 L667.3,406.16 L669.3,405.28 L671.3,404.35 L673.3,403.37 L675.3,402.38 L677.3,401.37 L679.3,400.37 L681.3,399.41 L683.3,398.51 L685.3,397.68 L687.3,396.94 L689.3,396.31 L691.3,395.80 L693.3,395.42 L695.3,395.16 L697.3,395.01 L699.3,394.98 L701.3,395.04 L703.3,395.18 L705.3,395.37 L707.3,395.59 L709.3,395.81 L711.3,396.02 L713.3,396.19 L715.3,396.29 L717.3,396.33 L719.3,396.28 L721.3,396.13 L723.3,395.90 L725.3,395.58 L727.3,395.18 L729.3,394.71 L731.3,394.19 L733.3,393.64 L735.3,393.07 L737.3,392.51 L739.3,391.98 L741.3,391.49 L743.3,391.07 L745.3,390.72 L747.3,390.46 L749.3,390.30 L751.3,390.24 L753.3,390.29 L755.3,390.45 L757.3,390.72 L759.3,391.09 L761.3,391.56 L763.3,392.11 L765.3,392.74 L767.3,393.44 L769.3,394.19 L771.3,394.98 L773.3,395.79 L775.3,396.62 L777.3,397.45 L779.3,398.27 L781.3,399.07 L783.3,399.83 L785.3,400.55 L787.3,401.21 L789.3,401.82 L791.3,402.36 L793.3,402.83 L795.3,403.22 L797.3,403.54 L799.3,403.79 L801.3,403.97 L803.3,404.09 L805.3,404.15 L807.3,404.16 L809.3,404.15 L811.3,404.12 L813.3,404.09 L815.3,404.08 L817.3,404.11 L819.3,404.18 L821.3,404.32 L823.3,404.54 L825.3,404.84 L827.3,405.24 L829.3,405.73 L831.3,406.32 L833.3,407.01 L835.3,407.78 L837.3,408.62 L839.3,409.54 L841.3,410.50 L843.3,411.51 L845.3,412.53 L847.3,413.57 L849.3,414.61 L851.3,415.62 L853.3,416.61 L855.3,417.55 L857.3,418.45 L859.3,419.28 L861.3,420.04 L863.3,420.73 L865.3,421.33 L867.3,421.85 L869.3,422.27 L871.3,422.60 L873.3,422.84 L875.3,422.99 L877.3,423.05 L879.3,423.04 L881.3,422.94 L883.3,422.79 L885.3,422.58 L887.3,422.34 L889.3,422.06 L891.3,421.76 L893.3,421.46 L895.3,421.15 L897.3,420.85 L899.3,420.57 L901.3,420.29 L903.3,420.02 L905.3,419.77 L907.3,419.53 L909.3,419.29 L911.3,419.05 L913.3,418.81 L915.3,418.57 L917.3,418.32 L919.3,418.08 L921.3,417.84 L923.3,417.61 L925.3,417.39 L927.3,417.21 L929.3,417.05 L931.3,416.93 L933.3,416.87 L935.3,416.85 L937.3,416.90 L939.3,417.00 L941.3,417.16 L943.3,417.37 L945.3,417.64 L947.3,417.94 L949.3,418.29 L951.3,418.65 L953.3,419.04 L955.3,419.43 L957.3,419.82 L959.3,420.21 L961.3,420.58 L963.3,420.92 L965.3,421.25 L967.3,421.54 L969.3,421.80 L971.3,422.02 L973.3,422.21 L975.3,422.35 L977.3,422.46 L979.3,422.53 L981.3,422.55 L983.3,422.54 L985.3,422.49 L987.3,422.40 L989.3,422.28 L991.3,422.13 L993.3,421.95 L995.3,421.75 L997.3,421.54 L999.3,421.31 L1001.3,421.09 L1003.3,420.87 L1005.3,420.66 L1007.3,420.46 L1009.3,420.28 L1011.3,420.13 L1013.3,420.00 L1015.3,419.90 L1017.3,419.83 L1019.3,419.79 L1021.3,419.77 L1023.3,419.77 L1025.3,419.80 L1027.3,419.85 L1029.3,419.91 L1031.3,420.00 L1033.3,420.10 L1035.3,420.22 L1037.3,420.36 L1039.3,420.53 L1041.3,420.71 L1043.3,420.92 L1045.3,421.16 L1047.3,421.43 L1049.3,421.72 L1051.3,422.03 L1053.3,422.36 L1055.3,422.71 L1057.3,423.06 L1059.3,423.41 L1061.3,423.74 L1063.3,424.06 L1065.3,424.35 L1067.3,424.59 L1069.3,424.80 L1071.3,424.95 L1073.3,425.04 L1075.3,425.08 L1077.3,425.06 L1079.3,424.99 L1081.3,424.86 L1083.3,424.69 L1085.3,424.47 L1087.3,424.22 L1089.3,423.95 L1091.3,423.67 L1093.3,423.37 L1095.3,423.08 L1097.3,422.80 L1099.3,422.55 L1101.3,422.32 L1103.3,422.13 L1105.3,422.00 L1107.3,421.92 L1109.3,421.90 L1111.3,421.95 L1113.3,422.08 L1115.3,422.28 L1117.3,422.55 L1119.3,422.90 L1121.3,423.31 L1123.3,423.77 L1125.3,424.29 L1127.3,424.83 L1129.3,425.40 L1131.3,425.98 L1133.3,426.55 L1135.3,427.10 L1137.3,427.63 L1139.3,428.11 L1141.3,428.54 L1143.3,428.92 L1145.3,429.23 L1147.3,429.49 L1149.3,429.68 L1151.3,429.82 L1153.3,429.89 L1155.3,429.92 L1157.3,429.89 L1159.3,429.81 L1161.3,429.70 L1163.3,429.54 L1165.3,429.36 L1167.3,429.14 L1169.3,428.90 L1171.3,428.63 L1173.3,428.35 L1175.3,428.05 L1177.3,427.74 L1179.3,427.42 L1181.3,427.09 L1183.3,426.76 L1185.3,426.44 L1187.3,426.12 L1189.3,425.82 L1191.3,425.54 L1193.3,425.27 L1195.3,425.04 L1197.3,424.84 L1199.3,424.69 L1201.3,424.57 L1203.3,424.50 L1205.3,424.48 L1207.3,424.50 L1209.3,424.58 L1211.3,424.70 L1213.3,424.86 L1215.3,425.06 L1217.3,425.29 L1219.3,425.55 L1221.3,425.83 L1223.3,426.12 L1225.3,426.42 L1227.3,426.72 L1229.3,427.02 L1231.3,427.31 L1233.3,427.58 L1235.3,427.83 L1237.3,428.06 L1239.3,428.27 L1241.3,428.45 L1243.3,428.62 L1245.3,428.76 L1247.3,428.88 L1249.3,428.99 L1251.3,429.08 L1253.3,429.17 L1255.3,429.24 L1257.3,429.32 L1259.3,429.39 L1261.3,429.46 L1263.3,429.54 L1265.3,429.62 L1267.3,429.71 L1269.3,429.80 L1271.3,429.90 L1273.3,430.00 L1275.3,430.10 L1277.3,430.20 L1279.3,430.30 L1281.3,430.39 L1283.3,430.48 L1285.3,430.57 L1287.3,430.64 L1289.3,430.71 L1291.3,430.77 L1293.3,430.82 L1295.3,430.86 L1297.3,430.89 L1298.3,430.91" fill="none" stroke="#000" stroke-width="3.1" stroke-linecap="round" stroke-linejoin="round"/>
<line x1="668.50" y1="431.0" x2="668.50" y2="405.64" stroke="#000" stroke-width="3.1"/>
<line x1="775.25" y1="431.0" x2="775.25" y2="396.60" stroke="#000" stroke-width="3.1"/>
<line x1="1053.90" y1="431.0" x2="1053.90" y2="422.46" stroke="#000" stroke-width="3.1"/>
<path d="M467.3,515.33 L469.3,515.32 L471.3,515.30 L473.3,515.28 L475.3,515.26 L477.3,515.23 L479.3,515.20 L481.3,515.17 L483.3,515.14 L485.3,515.11 L487.3,515.07 L489.3,515.04 L491.3,515.00 L493.3,514.96 L495.3,514.92 L497.3,514.88 L499.3,514.83 L501.3,514.77 L503.3,514.69 L505.3,514.60 L507.3,514.49 L509.3,514.35 L511.3,514.18 L513.3,513.97 L515.3,513.72 L517.3,513.42 L519.3,513.09 L521.3,512.70 L523.3,512.27 L525.3,511.80 L527.3,511.28 L529.3,510.73 L531.3,510.15 L533.3,509.53 L535.3,508.89 L537.3,508.24 L539.3,507.56 L541.3,506.87 L543.3,506.18 L545.3,505.47 L547.3,504.76 L549.3,504.04 L551.3,503.32 L553.3,502.59 L555.3,501.86 L557.3,501.12 L559.3,500.38 L561.3,499.65 L563.3,498.92 L565.3,498.20 L567.3,497.49 L569.3,496.80 L571.3,496.14 L573.3,495.50 L575.3,494.89 L577.3,494.32 L579.3,493.78 L581.3,493.27 L583.3,492.80 L585.3,492.36 L587.3,491.95 L589.3,491.57 L591.3,491.22 L593.3,490.89 L595.3,490.60 L597.3,490.33 L599.3,490.11 L601.3,489.92 L603.3,489.77 L605.3,489.67 L607.3,489.63 L609.3,489.64 L611.3,489.71 L613.3,489.83 L615.3,490.01 L617.3,490.24 L619.3,490.52 L621.3,490.83 L623.3,491.16 L625.3,491.50 L627.3,491.84 L629.3,492.17 L631.3,492.47 L633.3,492.74 L635.3,492.96 L637.3,493.14 L639.3,493.26 L641.3,493.32 L643.3,493.33 L645.3,493.27 L647.3,493.15 L649.3,492.97 L651.3,492.73 L653.3,492.42 L655.3,492.04 L657.3,491.58 L659.3,491.05 L661.3,490.44 L663.3,489.74 L665.3,488.95 L667.3,488.07 L669.3,487.10 L671.3,486.04 L673.3,484.89 L675.3,483.66 L677.3,482.35 L679.3,480.97 L681.3,479.54 L683.3,478.06 L685.3,476.56 L687.3,475.04 L689.3,473.52 L691.3,472.02 L693.3,470.54 L695.3,469.10 L697.3,467.71 L699.3,466.37 L701.3,465.11 L703.3,463.92 L705.3,462.81 L707.3,461.79 L709.3,460.87 L711.3,460.04 L713.3,459.31 L715.3,458.70 L717.3,458.21 L719.3,457.84 L721.3,457.60 L723.3,457.51 L725.3,457.57 L727.3,457.79 L729.3,458.17 L731.3,458.73 L733.3,459.47 L735.3,460.39 L737.3,461.48 L739.3,462.75 L741.3,464.18 L743.3,465.75 L745.3,467.46 L747.3,469.29 L749.3,471.22 L751.3,473.23 L753.3,475.28 L755.3,477.37 L757.3,479.47 L759.3,481.56 L761.3,483.60 L763.3,485.59 L765.3,487.50 L767.3,489.31 L769.3,491.00 L771.3,492.56 L773.3,493.96 L775.3,495.20 L777.3,496.25 L779.3,497.11 L781.3,497.77 L783.3,498.22 L785.3,498.47 L787.3,498.52 L789.3,498.36 L791.3,498.03 L793.3,497.52 L795.3,496.87 L797.3,496.09 L799.3,495.21 L801.3,494.26 L803.3,493.26 L805.3,492.24 L807.3,491.23 L809.3,490.26 L811.3,489.34 L813.3,488.50 L815.3,487.75 L817.3,487.10 L819.3,486.55 L821.3,486.12 L823.3,485.80 L825.3,485.58 L827.3,485.47 L829.3,485.46 L831.3,485.53 L833.3,485.70 L835.3,485.95 L837.3,486.27 L839.3,486.67 L841.3,487.14 L843.3,487.68 L845.3,488.29 L847.3,488.97 L849.3,489.71 L851.3,490.53 L853.3,491.40 L855.3,492.34 L857.3,493.33 L859.3,494.37 L861.3,495.45 L863.3,496.55 L865.3,497.67 L867.3,498.78 L869.3,499.87 L871.3,500.93 L873.3,501.95 L875.3,502.89 L877.3,503.76 L879.3,504.55 L881.3,505.24 L883.3,505.82 L885.3,506.31 L887.3,506.69 L889.3,506.98 L891.3,507.18 L893.3,507.30 L895.3,507.34 L897.3,507.33 L899.3,507.28 L901.3,507.20 L903.3,507.10 L905.3,506.99 L907.3,506.89 L909.3,506.81 L911.3,506.75 L913.3,506.72 L915.3,506.73 L917.3,506.77 L919.3,506.85 L921.3,506.96 L923.3,507.11 L925.3,507.30 L927.3,507.51 L929.3,507.76 L931.3,508.03 L933.3,508.32 L935.3,508.64 L937.3,508.98 L939.3,509.33 L941.3,509.69 L943.3,510.07 L945.3,510.45 L947.3,510.84 L949.3,511.23 L951.3,511.62 L953.3,511.99 L955.3,512.36 L957.3,512.71 L959.3,513.04 L961.3,513.34 L963.3,513.62 L965.3,513.87 L967.3,514.09 L969.3,514.28 L971.3,514.44 L973.3,514.58 L975.3,514.68 L977.3,514.77 L979.3,514.84 L981.3,514.89 L983.3,514.93 L985.3,514.96 L987.3,514.99 L989.3,515.02 L991.3,515.04 L993.3,515.07 L995.3,515.09 L997.3,515.12 L999.3,515.15 L1001.3,515.17 L1003.3,515.20 L1005.3,515.23 L1007.3,515.25 L1009.3,515.27 L1011.3,515.29 L1013.3,515.31 L1015.3,515.33 L1017.3,515.34 L1019.3,515.35 L1021.3,515.35 L1023.3,515.36 L1025.3,515.36 L1027.3,515.37 L1029.3,515.37 L1031.3,515.37 L1033.3,515.37 L1035.3,515.37 L1037.3,515.37 L1039.3,515.37 L1041.3,515.37 L1043.3,515.37 L1045.3,515.37 L1047.3,515.37 L1049.3,515.37 L1051.3,515.37 L1053.3,515.37 L1055.3,515.37 L1057.3,515.37 L1059.3,515.37 L1061.3,515.37 L1063.3,515.37 L1065.3,515.37 L1067.3,515.37 L1069.3,515.37 L1071.3,515.37 L1073.3,515.37 L1075.3,515.37 L1077.3,515.37 L1079.3,515.37 L1081.3,515.37 L1083.3,515.37 L1085.3,515.37 L1087.3,515.37 L1089.3,515.37 L1091.3,515.37 L1093.3,515.37 L1095.3,515.37 L1097.3,515.37 L1099.3,515.38 L1101.3,515.38 L1103.3,515.38 L1105.3,515.38 L1107.3,515.38 L1109.3,515.38 L1111.3,515.38 L1113.3,515.38 L1115.3,515.38 L1117.3,515.38 L1119.3,515.38 L1121.3,515.38 L1123.3,515.38 L1125.3,515.38 L1127.3,515.38 L1129.3,515.38 L1131.3,515.38 L1133.3,515.38 L1135.3,515.38 L1137.3,515.38 L1139.3,515.38 L1141.3,515.38 L1143.3,515.38 L1145.3,515.38 L1147.3,515.38 L1149.3,515.38 L1151.3,515.38 L1153.3,515.38 L1155.3,515.38 L1157.3,515.38 L1159.3,515.38 L1161.3,515.38 L1163.3,515.38 L1165.3,515.38 L1167.3,515.38 L1169.3,515.38 L1171.3,515.38 L1173.3,515.38 L1175.3,515.38 L1177.3,515.38 L1179.3,515.38 L1181.3,515.38 L1183.3,515.38 L1185.3,515.38 L1187.3,515.38 L1189.3,515.38 L1191.3,515.38 L1193.3,515.38 L1195.3,515.38 L1197.3,515.38 L1199.3,515.38 L1201.3,515.38 L1203.3,515.38 L1205.3,515.38 L1207.3,515.38 L1209.3,515.38 L1211.3,515.38 L1213.3,515.38 L1215.3,515.38 L1217.3,515.38 L1219.3,515.38 L1221.3,515.38 L1223.3,515.38 L1225.3,515.38 L1227.3,515.38 L1229.3,515.38 L1231.3,515.38 L1233.3,515.38 L1235.3,515.38 L1237.3,515.38 L1239.3,515.38 L1241.3,515.38 L1243.3,515.38 L1245.3,515.38 L1247.3,515.38 L1249.3,515.38 L1251.3,515.38 L1253.3,515.38 L1255.3,515.38 L1257.3,515.38 L1259.3,515.38 L1261.3,515.38 L1263.3,515.38 L1265.3,515.38 L1267.3,515.38 L1269.3,515.38 L1271.3,515.38 L1273.3,515.38 L1275.3,515.38 L1277.3,515.38 L1279.3,515.38 L1281.3,515.38 L1283.3,515.38 L1285.3,515.38 L1287.3,515.38 L1289.3,515.38 L1291.3,515.38 L1293.3,515.38 L1295.3,515.38 L1297.3,515.38 L1298.3,515.38 L1298.3,515.375 L467.3,515.375 Z" fill="#F25CE0" fill-opacity="0.7" stroke="none"/>
<path d="M467.3,515.33 L469.3,515.32 L471.3,515.30 L473.3,515.28 L475.3,515.26 L477.3,515.23 L479.3,515.20 L481.3,515.17 L483.3,515.14 L485.3,515.11 L487.3,515.07 L489.3,515.04 L491.3,515.00 L493.3,514.96 L495.3,514.92 L497.3,514.88 L499.3,514.83 L501.3,514.77 L503.3,514.69 L505.3,514.60 L507.3,514.49 L509.3,514.35 L511.3,514.18 L513.3,513.97 L515.3,513.72 L517.3,513.42 L519.3,513.09 L521.3,512.70 L523.3,512.27 L525.3,511.80 L527.3,511.28 L529.3,510.73 L531.3,510.15 L533.3,509.53 L535.3,508.89 L537.3,508.24 L539.3,507.56 L541.3,506.87 L543.3,506.18 L545.3,505.47 L547.3,504.76 L549.3,504.04 L551.3,503.32 L553.3,502.59 L555.3,501.86 L557.3,501.12 L559.3,500.38 L561.3,499.65 L563.3,498.92 L565.3,498.20 L567.3,497.49 L569.3,496.80 L571.3,496.14 L573.3,495.50 L575.3,494.89 L577.3,494.32 L579.3,493.78 L581.3,493.27 L583.3,492.80 L585.3,492.36 L587.3,491.95 L589.3,491.57 L591.3,491.22 L593.3,490.89 L595.3,490.60 L597.3,490.33 L599.3,490.11 L601.3,489.92 L603.3,489.77 L605.3,489.67 L607.3,489.63 L609.3,489.64 L611.3,489.71 L613.3,489.83 L615.3,490.01 L617.3,490.24 L619.3,490.52 L621.3,490.83 L623.3,491.16 L625.3,491.50 L627.3,491.84 L629.3,492.17 L631.3,492.47 L633.3,492.74 L635.3,492.96 L637.3,493.14 L639.3,493.26 L641.3,493.32 L643.3,493.33 L645.3,493.27 L647.3,493.15 L649.3,492.97 L651.3,492.73 L653.3,492.42 L655.3,492.04 L657.3,491.58 L659.3,491.05 L661.3,490.44 L663.3,489.74 L665.3,488.95 L667.3,488.07 L669.3,487.10 L671.3,486.04 L673.3,484.89 L675.3,483.66 L677.3,482.35 L679.3,480.97 L681.3,479.54 L683.3,478.06 L685.3,476.56 L687.3,475.04 L689.3,473.52 L691.3,472.02 L693.3,470.54 L695.3,469.10 L697.3,467.71 L699.3,466.37 L701.3,465.11 L703.3,463.92 L705.3,462.81 L707.3,461.79 L709.3,460.87 L711.3,460.04 L713.3,459.31 L715.3,458.70 L717.3,458.21 L719.3,457.84 L721.3,457.60 L723.3,457.51 L725.3,457.57 L727.3,457.79 L729.3,458.17 L731.3,458.73 L733.3,459.47 L735.3,460.39 L737.3,461.48 L739.3,462.75 L741.3,464.18 L743.3,465.75 L745.3,467.46 L747.3,469.29 L749.3,471.22 L751.3,473.23 L753.3,475.28 L755.3,477.37 L757.3,479.47 L759.3,481.56 L761.3,483.60 L763.3,485.59 L765.3,487.50 L767.3,489.31 L769.3,491.00 L771.3,492.56 L773.3,493.96 L775.3,495.20 L777.3,496.25 L779.3,497.11 L781.3,497.77 L783.3,498.22 L785.3,498.47 L787.3,498.52 L789.3,498.36 L791.3,498.03 L793.3,497.52 L795.3,496.87 L797.3,496.09 L799.3,495.21 L801.3,494.26 L803.3,493.26 L805.3,492.24 L807.3,491.23 L809.3,490.26 L811.3,489.34 L813.3,488.50 L815.3,487.75 L817.3,487.10 L819.3,486.55 L821.3,486.12 L823.3,485.80 L825.3,485.58 L827.3,485.47 L829.3,485.46 L831.3,485.53 L833.3,485.70 L835.3,485.95 L837.3,486.27 L839.3,486.67 L841.3,487.14 L843.3,487.68 L845.3,488.29 L847.3,488.97 L849.3,489.71 L851.3,490.53 L853.3,491.40 L855.3,492.34 L857.3,493.33 L859.3,494.37 L861.3,495.45 L863.3,496.55 L865.3,497.67 L867.3,498.78 L869.3,499.87 L871.3,500.93 L873.3,501.95 L875.3,502.89 L877.3,503.76 L879.3,504.55 L881.3,505.24 L883.3,505.82 L885.3,506.31 L887.3,506.69 L889.3,506.98 L891.3,507.18 L893.3,507.30 L895.3,507.34 L897.3,507.33 L899.3,507.28 L901.3,507.20 L903.3,507.10 L905.3,506.99 L907.3,506.89 L909.3,506.81 L911.3,506.75 L913.3,506.72 L915.3,506.73 L917.3,506.77 L919.3,506.85 L921.3,506.96 L923.3,507.11 L925.3,507.30 L927.3,507.51 L929.3,507.76 L931.3,508.03 L933.3,508.32 L935.3,508.64 L937.3,508.98 L939.3,509.33 L941.3,509.69 L943.3,510.07 L945.3,510.45 L947.3,510.84 L949.3,511.23 L951.3,511.62 L953.3,511.99 L955.3,512.36 L957.3,512.71 L959.3,513.04 L961.3,513.34 L963.3,513.62 L965.3,513.87 L967.3,514.09 L969.3,514.28 L971.3,514.44 L973.3,514.58 L975.3,514.68 L977.3,514.77 L979.3,514.84 L981.3,514.89 L983.3,514.93 L985.3,514.96 L987.3,514.99 L989.3,515.02 L991.3,515.04 L993.3,515.07 L995.3,515.09 L997.3,515.12 L999.3,515.15 L1001.3,515.17 L1003.3,515.20 L1005.3,515.23 L1007.3,515.25 L1009.3,515.27 L1011.3,515.29 L1013.3,515.31 L1015.3,515.33 L1017.3,515.34 L1019.3,515.35 L1021.3,515.35 L1023.3,515.36 L1025.3,515.36 L1027.3,515.37 L1029.3,515.37 L1031.3,515.37 L1033.3,515.37 L1035.3,515.37 L1037.3,515.37 L1039.3,515.37 L1041.3,515.37 L1043.3,515.37 L1045.3,515.37 L1047.3,515.37 L1049.3,515.37 L1051.3,515.37 L1053.3,515.37 L1055.3,515.37 L1057.3,515.37 L1059.3,515.37 L1061.3,515.37 L1063.3,515.37 L1065.3,515.37 L1067.3,515.37 L1069.3,515.37 L1071.3,515.37 L1073.3,515.37 L1075.3,515.37 L1077.3,515.37 L1079.3,515.37 L1081.3,515.37 L1083.3,515.37 L1085.3,515.37 L1087.3,515.37 L1089.3,515.37 L1091.3,515.37 L1093.3,515.37 L1095.3,515.37 L1097.3,515.37 L1099.3,515.38 L1101.3,515.38 L1103.3,515.38 L1105.3,515.38 L1107.3,515.38 L1109.3,515.38 L1111.3,515.38 L1113.3,515.38 L1115.3,515.38 L1117.3,515.38 L1119.3,515.38 L1121.3,515.38 L1123.3,515.38 L1125.3,515.38 L1127.3,515.38 L1129.3,515.38 L1131.3,515.38 L1133.3,515.38 L1135.3,515.38 L1137.3,515.38 L1139.3,515.38 L1141.3,515.38 L1143.3,515.38 L1145.3,515.38 L1147.3,515.38 L1149.3,515.38 L1151.3,515.38 L1153.3,515.38 L1155.3,515.38 L1157.3,515.38 L1159.3,515.38 L1161.3,515.38 L1163.3,515.38 L1165.3,515.38 L1167.3,515.38 L1169.3,515.38 L1171.3,515.38 L1173.3,515.38 L1175.3,515.38 L1177.3,515.38 L1179.3,515.38 L1181.3,515.38 L1183.3,515.38 L1185.3,515.38 L1187.3,515.38 L1189.3,515.38 L1191.3,515.38 L1193.3,515.38 L1195.3,515.38 L1197.3,515.38 L1199.3,515.38 L1201.3,515.38 L1203.3,515.38 L1205.3,515.38 L1207.3,515.38 L1209.3,515.38 L1211.3,515.38 L1213.3,515.38 L1215.3,515.38 L1217.3,515.38 L1219.3,515.38 L1221.3,515.38 L1223.3,515.38 L1225.3,515.38 L1227.3,515.38 L1229.3,515.38 L1231.3,515.38 L1233.3,515.38 L1235.3,515.38 L1237.3,515.38 L1239.3,515.38 L1241.3,515.38 L1243.3,515.38 L1245.3,515.38 L1247.3,515.38 L1249.3,515.38 L1251.3,515.38 L1253.3,515.38 L1255.3,515.38 L1257.3,515.38 L1259.3,515.38 L1261.3,515.38 L1263.3,515.38 L1265.3,515.38 L1267.3,515.38 L1269.3,515.38 L1271.3,515.38 L1273.3,515.38 L1275.3,515.38 L1277.3,515.38 L1279.3,515.38 L1281.3,515.38 L1283.3,515.38 L1285.3,515.38 L1287.3,515.38 L1289.3,515.38 L1291.3,515.38 L1293.3,515.38 L1295.3,515.38 L1297.3,515.38 L1298.3,515.38" fill="none" stroke="#000" stroke-width="3.1" stroke-linecap="round" stroke-linejoin="round"/>
<line x1="600.60" y1="515.375" x2="600.60" y2="489.98" stroke="#000" stroke-width="3.1"/>
<line x1="722.00" y1="515.375" x2="722.00" y2="457.55" stroke="#000" stroke-width="3.1"/>
<line x1="856.00" y1="515.375" x2="856.00" y2="492.68" stroke="#000" stroke-width="3.1"/>
<path d="M467.3,599.69 L469.3,599.67 L471.3,599.65 L473.3,599.63 L475.3,599.60 L477.3,599.57 L479.3,599.53 L481.3,599.49 L483.3,599.45 L485.3,599.40 L487.3,599.36 L489.3,599.31 L491.3,599.27 L493.3,599.23 L495.3,599.19 L497.3,599.16 L499.3,599.13 L501.3,599.10 L503.3,599.07 L505.3,599.05 L507.3,599.02 L509.3,599.00 L511.3,598.98 L513.3,598.95 L515.3,598.92 L517.3,598.88 L519.3,598.84 L521.3,598.79 L523.3,598.73 L525.3,598.66 L527.3,598.58 L529.3,598.48 L531.3,598.37 L533.3,598.22 L535.3,598.05 L537.3,597.83 L539.3,597.57 L541.3,597.25 L543.3,596.86 L545.3,596.39 L547.3,595.82 L549.3,595.13 L551.3,594.31 L553.3,593.34 L555.3,592.21 L557.3,590.90 L559.3,589.40 L561.3,587.69 L563.3,585.78 L565.3,583.66 L567.3,581.33 L569.3,578.81 L571.3,576.11 L573.3,573.25 L575.3,570.26 L577.3,567.17 L579.3,564.02 L581.3,560.84 L583.3,557.68 L585.3,554.57 L587.3,551.55 L589.3,548.65 L591.3,545.89 L593.3,543.29 L595.3,540.87 L597.3,538.63 L599.3,536.57 L601.3,534.67 L603.3,532.93 L605.3,531.33 L607.3,529.85 L609.3,528.46 L611.3,527.16 L613.3,525.91 L615.3,524.72 L617.3,523.57 L619.3,522.46 L621.3,521.39 L623.3,520.37 L625.3,519.40 L627.3,518.51 L629.3,517.70 L631.3,517.00 L633.3,516.42 L635.3,515.98 L637.3,515.71 L639.3,515.60 L641.3,515.68 L643.3,515.95 L645.3,516.41 L647.3,517.06 L649.3,517.90 L651.3,518.92 L653.3,520.09 L655.3,521.41 L657.3,522.86 L659.3,524.42 L661.3,526.06 L663.3,527.76 L665.3,529.49 L667.3,531.25 L669.3,533.01 L671.3,534.74 L673.3,536.45 L675.3,538.10 L677.3,539.71 L679.3,541.26 L681.3,542.74 L683.3,544.18 L685.3,545.56 L687.3,546.90 L689.3,548.21 L691.3,549.50 L693.3,550.78 L695.3,552.07 L697.3,553.39 L699.3,554.74 L701.3,556.14 L703.3,557.60 L705.3,559.13 L707.3,560.72 L709.3,562.37 L711.3,564.10 L713.3,565.88 L715.3,567.72 L717.3,569.59 L719.3,571.49 L721.3,573.41 L723.3,575.32 L725.3,577.21 L727.3,579.07 L729.3,580.88 L731.3,582.62 L733.3,584.30 L735.3,585.89 L737.3,587.39 L739.3,588.80 L741.3,590.10 L743.3,591.29 L745.3,592.38 L747.3,593.37 L749.3,594.25 L751.3,595.03 L753.3,595.72 L755.3,596.31 L757.3,596.82 L759.3,597.25 L761.3,597.60 L763.3,597.89 L765.3,598.11 L767.3,598.28 L769.3,598.40 L771.3,598.47 L773.3,598.50 L775.3,598.50 L777.3,598.46 L779.3,598.40 L781.3,598.31 L783.3,598.19 L785.3,598.06 L787.3,597.90 L789.3,597.73 L791.3,597.54 L793.3,597.34 L795.3,597.13 L797.3,596.91 L799.3,596.68 L801.3,596.46 L803.3,596.23 L805.3,596.02 L807.3,595.82 L809.3,595.63 L811.3,595.46 L813.3,595.32 L815.3,595.21 L817.3,595.12 L819.3,595.08 L821.3,595.07 L823.3,595.10 L825.3,595.17 L827.3,595.27 L829.3,595.42 L831.3,595.59 L833.3,595.80 L835.3,596.04 L837.3,596.30 L839.3,596.57 L841.3,596.86 L843.3,597.15 L845.3,597.43 L847.3,597.71 L849.3,597.98 L851.3,598.24 L853.3,598.47 L855.3,598.68 L857.3,598.87 L859.3,599.04 L861.3,599.18 L863.3,599.30 L865.3,599.40 L867.3,599.48 L869.3,599.54 L871.3,599.59 L873.3,599.62 L875.3,599.64 L877.3,599.65 L879.3,599.66 L881.3,599.66 L883.3,599.65 L885.3,599.63 L887.3,599.62 L889.3,599.60 L891.3,599.58 L893.3,599.56 L895.3,599.55 L897.3,599.53 L899.3,599.52 L901.3,599.51 L903.3,599.51 L905.3,599.51 L907.3,599.52 L909.3,599.53 L911.3,599.54 L913.3,599.56 L915.3,599.58 L917.3,599.60 L919.3,599.62 L921.3,599.64 L923.3,599.66 L925.3,599.67 L927.3,599.69 L929.3,599.70 L931.3,599.71 L933.3,599.72 L935.3,599.73 L937.3,599.74 L939.3,599.74 L941.3,599.74 L943.3,599.75 L945.3,599.75 L947.3,599.75 L949.3,599.75 L951.3,599.75 L953.3,599.75 L955.3,599.75 L957.3,599.75 L959.3,599.75 L961.3,599.75 L963.3,599.75 L965.3,599.75 L967.3,599.75 L969.3,599.75 L971.3,599.75 L973.3,599.75 L975.3,599.75 L977.3,599.75 L979.3,599.75 L981.3,599.75 L983.3,599.75 L985.3,599.75 L987.3,599.75 L989.3,599.75 L991.3,599.75 L993.3,599.75 L995.3,599.75 L997.3,599.75 L999.3,599.75 L1001.3,599.75 L1003.3,599.75 L1005.3,599.75 L1007.3,599.75 L1009.3,599.75 L1011.3,599.75 L1013.3,599.75 L1015.3,599.75 L1017.3,599.75 L1019.3,599.75 L1021.3,599.75 L1023.3,599.75 L1025.3,599.75 L1027.3,599.75 L1029.3,599.75 L1031.3,599.75 L1033.3,599.74 L1035.3,599.74 L1037.3,599.74 L1039.3,599.74 L1041.3,599.74 L1043.3,599.74 L1045.3,599.75 L1047.3,599.75 L1049.3,599.75 L1051.3,599.75 L1053.3,599.75 L1055.3,599.75 L1057.3,599.75 L1059.3,599.75 L1061.3,599.75 L1063.3,599.75 L1065.3,599.75 L1067.3,599.75 L1069.3,599.75 L1071.3,599.75 L1073.3,599.75 L1075.3,599.75 L1077.3,599.75 L1079.3,599.75 L1081.3,599.75 L1083.3,599.75 L1085.3,599.75 L1087.3,599.75 L1089.3,599.75 L1091.3,599.75 L1093.3,599.75 L1095.3,599.75 L1097.3,599.75 L1099.3,599.75 L1101.3,599.75 L1103.3,599.75 L1105.3,599.75 L1107.3,599.75 L1109.3,599.75 L1111.3,599.75 L1113.3,599.75 L1115.3,599.75 L1117.3,599.75 L1119.3,599.75 L1121.3,599.75 L1123.3,599.75 L1125.3,599.75 L1127.3,599.75 L1129.3,599.75 L1131.3,599.75 L1133.3,599.75 L1135.3,599.75 L1137.3,599.75 L1139.3,599.75 L1141.3,599.75 L1143.3,599.75 L1145.3,599.75 L1147.3,599.74 L1149.3,599.74 L1151.3,599.74 L1153.3,599.73 L1155.3,599.73 L1157.3,599.72 L1159.3,599.70 L1161.3,599.69 L1163.3,599.67 L1165.3,599.64 L1167.3,599.61 L1169.3,599.58 L1171.3,599.54 L1173.3,599.50 L1175.3,599.46 L1177.3,599.42 L1179.3,599.38 L1181.3,599.34 L1183.3,599.31 L1185.3,599.29 L1187.3,599.27 L1189.3,599.27 L1191.3,599.27 L1193.3,599.28 L1195.3,599.30 L1197.3,599.33 L1199.3,599.37 L1201.3,599.41 L1203.3,599.45 L1205.3,599.49 L1207.3,599.53 L1209.3,599.57 L1211.3,599.60 L1213.3,599.63 L1215.3,599.66 L1217.3,599.68 L1219.3,599.70 L1221.3,599.71 L1223.3,599.72 L1225.3,599.73 L1227.3,599.74 L1229.3,599.74 L1231.3,599.74 L1233.3,599.75 L1235.3,599.75 L1237.3,599.75 L1239.3,599.75 L1241.3,599.75 L1243.3,599.75 L1245.3,599.75 L1247.3,599.75 L1249.3,599.75 L1251.3,599.75 L1253.3,599.75 L1255.3,599.75 L1257.3,599.75 L1259.3,599.75 L1261.3,599.75 L1263.3,599.75 L1265.3,599.75 L1267.3,599.75 L1269.3,599.75 L1271.3,599.75 L1273.3,599.75 L1275.3,599.75 L1277.3,599.75 L1279.3,599.75 L1281.3,599.75 L1283.3,599.75 L1285.3,599.75 L1287.3,599.75 L1289.3,599.75 L1291.3,599.75 L1293.3,599.75 L1295.3,599.75 L1297.3,599.75 L1298.3,599.75 L1298.3,599.75 L467.3,599.75 Z" fill="#F5746F" fill-opacity="0.7" stroke="none"/>
<path d="M467.3,599.69 L469.3,599.67 L471.3,599.65 L473.3,599.63 L475.3,599.60 L477.3,599.57 L479.3,599.53 L481.3,599.49 L483.3,599.45 L485.3,599.40 L487.3,599.36 L489.3,599.31 L491.3,599.27 L493.3,599.23 L495.3,599.19 L497.3,599.16 L499.3,599.13 L501.3,599.10 L503.3,599.07 L505.3,599.05 L507.3,599.02 L509.3,599.00 L511.3,598.98 L513.3,598.95 L515.3,598.92 L517.3,598.88 L519.3,598.84 L521.3,598.79 L523.3,598.73 L525.3,598.66 L527.3,598.58 L529.3,598.48 L531.3,598.37 L533.3,598.22 L535.3,598.05 L537.3,597.83 L539.3,597.57 L541.3,597.25 L543.3,596.86 L545.3,596.39 L547.3,595.82 L549.3,595.13 L551.3,594.31 L553.3,593.34 L555.3,592.21 L557.3,590.90 L559.3,589.40 L561.3,587.69 L563.3,585.78 L565.3,583.66 L567.3,581.33 L569.3,578.81 L571.3,576.11 L573.3,573.25 L575.3,570.26 L577.3,567.17 L579.3,564.02 L581.3,560.84 L583.3,557.68 L585.3,554.57 L587.3,551.55 L589.3,548.65 L591.3,545.89 L593.3,543.29 L595.3,540.87 L597.3,538.63 L599.3,536.57 L601.3,534.67 L603.3,532.93 L605.3,531.33 L607.3,529.85 L609.3,528.46 L611.3,527.16 L613.3,525.91 L615.3,524.72 L617.3,523.57 L619.3,522.46 L621.3,521.39 L623.3,520.37 L625.3,519.40 L627.3,518.51 L629.3,517.70 L631.3,517.00 L633.3,516.42 L635.3,515.98 L637.3,515.71 L639.3,515.60 L641.3,515.68 L643.3,515.95 L645.3,516.41 L647.3,517.06 L649.3,517.90 L651.3,518.92 L653.3,520.09 L655.3,521.41 L657.3,522.86 L659.3,524.42 L661.3,526.06 L663.3,527.76 L665.3,529.49 L667.3,531.25 L669.3,533.01 L671.3,534.74 L673.3,536.45 L675.3,538.10 L677.3,539.71 L679.3,541.26 L681.3,542.74 L683.3,544.18 L685.3,545.56 L687.3,546.90 L689.3,548.21 L691.3,549.50 L693.3,550.78 L695.3,552.07 L697.3,553.39 L699.3,554.74 L701.3,556.14 L703.3,557.60 L705.3,559.13 L707.3,560.72 L709.3,562.37 L711.3,564.10 L713.3,565.88 L715.3,567.72 L717.3,569.59 L719.3,571.49 L721.3,573.41 L723.3,575.32 L725.3,577.21 L727.3,579.07 L729.3,580.88 L731.3,582.62 L733.3,584.30 L735.3,585.89 L737.3,587.39 L739.3,588.80 L741.3,590.10 L743.3,591.29 L745.3,592.38 L747.3,593.37 L749.3,594.25 L751.3,595.03 L753.3,595.72 L755.3,596.31 L757.3,596.82 L759.3,597.25 L761.3,597.60 L763.3,597.89 L765.3,598.11 L767.3,598.28 L769.3,598.40 L771.3,598.47 L773.3,598.50 L775.3,598.50 L777.3,598.46 L779.3,598.40 L781.3,598.31 L783.3,598.19 L785.3,598.06 L787.3,597.90 L789.3,597.73 L791.3,597.54 L793.3,597.34 L795.3,597.13 L797.3,596.91 L799.3,596.68 L801.3,596.46 L803.3,596.23 L805.3,596.02 L807.3,595.82 L809.3,595.63 L811.3,595.46 L813.3,595.32 L815.3,595.21 L817.3,595.12 L819.3,595.08 L821.3,595.07 L823.3,595.10 L825.3,595.17 L827.3,595.27 L829.3,595.42 L831.3,595.59 L833.3,595.80 L835.3,596.04 L837.3,596.30 L839.3,596.57 L841.3,596.86 L843.3,597.15 L845.3,597.43 L847.3,597.71 L849.3,597.98 L851.3,598.24 L853.3,598.47 L855.3,598.68 L857.3,598.87 L859.3,599.04 L861.3,599.18 L863.3,599.30 L865.3,599.40 L867.3,599.48 L869.3,599.54 L871.3,599.59 L873.3,599.62 L875.3,599.64 L877.3,599.65 L879.3,599.66 L881.3,599.66 L883.3,599.65 L885.3,599.63 L887.3,599.62 L889.3,599.60 L891.3,599.58 L893.3,599.56 L895.3,599.55 L897.3,599.53 L899.3,599.52 L901.3,599.51 L903.3,599.51 L905.3,599.51 L907.3,599.52 L909.3,599.53 L911.3,599.54 L913.3,599.56 L915.3,599.58 L917.3,599.60 L919.3,599.62 L921.3,599.64 L923.3,599.66 L925.3,599.67 L927.3,599.69 L929.3,599.70 L931.3,599.71 L933.3,599.72 L935.3,599.73 L937.3,599.74 L939.3,599.74 L941.3,599.74 L943.3,599.75 L945.3,599.75 L947.3,599.75 L949.3,599.75 L951.3,599.75 L953.3,599.75 L955.3,599.75 L957.3,599.75 L959.3,599.75 L961.3,599.75 L963.3,599.75 L965.3,599.75 L967.3,599.75 L969.3,599.75 L971.3,599.75 L973.3,599.75 L975.3,599.75 L977.3,599.75 L979.3,599.75 L981.3,599.75 L983.3,599.75 L985.3,599.75 L987.3,599.75 L989.3,599.75 L991.3,599.75 L993.3,599.75 L995.3,599.75 L997.3,599.75 L999.3,599.75 L1001.3,599.75 L1003.3,599.75 L1005.3,599.75 L1007.3,599.75 L1009.3,599.75 L1011.3,599.75 L1013.3,599.75 L1015.3,599.75 L1017.3,599.75 L1019.3,599.75 L1021.3,599.75 L1023.3,599.75 L1025.3,599.75 L1027.3,599.75 L1029.3,599.75 L1031.3,599.75 L1033.3,599.74 L1035.3,599.74 L1037.3,599.74 L1039.3,599.74 L1041.3,599.74 L1043.3,599.74 L1045.3,599.75 L1047.3,599.75 L1049.3,599.75 L1051.3,599.75 L1053.3,599.75 L1055.3,599.75 L1057.3,599.75 L1059.3,599.75 L1061.3,599.75 L1063.3,599.75 L1065.3,599.75 L1067.3,599.75 L1069.3,599.75 L1071.3,599.75 L1073.3,599.75 L1075.3,599.75 L1077.3,599.75 L1079.3,599.75 L1081.3,599.75 L1083.3,599.75 L1085.3,599.75 L1087.3,599.75 L1089.3,599.75 L1091.3,599.75 L1093.3,599.75 L1095.3,599.75 L1097.3,599.75 L1099.3,599.75 L1101.3,599.75 L1103.3,599.75 L1105.3,599.75 L1107.3,599.75 L1109.3,599.75 L1111.3,599.75 L1113.3,599.75 L1115.3,599.75 L1117.3,599.75 L1119.3,599.75 L1121.3,599.75 L1123.3,599.75 L1125.3,599.75 L1127.3,599.75 L1129.3,599.75 L1131.3,599.75 L1133.3,599.75 L1135.3,599.75 L1137.3,599.75 L1139.3,599.75 L1141.3,599.75 L1143.3,599.75 L1145.3,599.75 L1147.3,599.74 L1149.3,599.74 L1151.3,599.74 L1153.3,599.73 L1155.3,599.73 L1157.3,599.72 L1159.3,599.70 L1161.3,599.69 L1163.3,599.67 L1165.3,599.64 L1167.3,599.61 L1169.3,599.58 L1171.3,599.54 L1173.3,599.50 L1175.3,599.46 L1177.3,599.42 L1179.3,599.38 L1181.3,599.34 L1183.3,599.31 L1185.3,599.29 L1187.3,599.27 L1189.3,599.27 L1191.3,599.27 L1193.3,599.28 L1195.3,599.30 L1197.3,599.33 L1199.3,599.37 L1201.3,599.41 L1203.3,599.45 L1205.3,599.49 L1207.3,599.53 L1209.3,599.57 L1211.3,599.60 L1213.3,599.63 L1215.3,599.66 L1217.3,599.68 L1219.3,599.70 L1221.3,599.71 L1223.3,599.72 L1225.3,599.73 L1227.3,599.74 L1229.3,599.74 L1231.3,599.74 L1233.3,599.75 L1235.3,599.75 L1237.3,599.75 L1239.3,599.75 L1241.3,599.75 L1243.3,599.75 L1245.3,599.75 L1247.3,599.75 L1249.3,599.75 L1251.3,599.75 L1253.3,599.75 L1255.3,599.75 L1257.3,599.75 L1259.3,599.75 L1261.3,599.75 L1263.3,599.75 L1265.3,599.75 L1267.3,599.75 L1269.3,599.75 L1271.3,599.75 L1273.3,599.75 L1275.3,599.75 L1277.3,599.75 L1279.3,599.75 L1281.3,599.75 L1283.3,599.75 L1285.3,599.75 L1287.3,599.75 L1289.3,599.75 L1291.3,599.75 L1293.3,599.75 L1295.3,599.75 L1297.3,599.75 L1298.3,599.75" fill="none" stroke="#000" stroke-width="3.1" stroke-linecap="round" stroke-linejoin="round"/>
<line x1="592.25" y1="599.75" x2="592.25" y2="544.63" stroke="#000" stroke-width="3.1"/>
<line x1="645.60" y1="599.75" x2="645.60" y2="516.50" stroke="#000" stroke-width="3.1"/>
<line x1="706.50" y1="599.75" x2="706.50" y2="560.07" stroke="#000" stroke-width="3.1"/>
<path d="M467.3,684.09 L469.3,684.08 L471.3,684.07 L473.3,684.05 L475.3,684.03 L477.3,684.00 L479.3,683.98 L481.3,683.94 L483.3,683.91 L485.3,683.87 L487.3,683.83 L489.3,683.80 L491.3,683.76 L493.3,683.72 L495.3,683.68 L497.3,683.64 L499.3,683.61 L501.3,683.59 L503.3,683.56 L505.3,683.54 L507.3,683.53 L509.3,683.51 L511.3,683.49 L513.3,683.47 L515.3,683.45 L517.3,683.41 L519.3,683.36 L521.3,683.29 L523.3,683.19 L525.3,683.07 L527.3,682.91 L529.3,682.70 L531.3,682.44 L533.3,682.13 L535.3,681.76 L537.3,681.32 L539.3,680.80 L541.3,680.20 L543.3,679.52 L545.3,678.75 L547.3,677.89 L549.3,676.93 L551.3,675.86 L553.3,674.70 L555.3,673.42 L557.3,672.03 L559.3,670.54 L561.3,668.92 L563.3,667.19 L565.3,665.35 L567.3,663.39 L569.3,661.31 L571.3,659.13 L573.3,656.85 L575.3,654.47 L577.3,652.00 L579.3,649.47 L581.3,646.87 L583.3,644.24 L585.3,641.59 L587.3,638.93 L589.3,636.30 L591.3,633.71 L593.3,631.19 L595.3,628.75 L597.3,626.42 L599.3,624.21 L601.3,622.15 L603.3,620.24 L605.3,618.49 L607.3,616.92 L609.3,615.53 L611.3,614.32 L613.3,613.29 L615.3,612.44 L617.3,611.76 L619.3,611.23 L621.3,610.85 L623.3,610.60 L625.3,610.46 L627.3,610.40 L629.3,610.41 L631.3,610.46 L633.3,610.53 L635.3,610.59 L637.3,610.61 L639.3,610.59 L641.3,610.51 L643.3,610.35 L645.3,610.11 L647.3,609.80 L649.3,609.43 L651.3,609.01 L653.3,608.58 L655.3,608.14 L657.3,607.76 L659.3,607.44 L661.3,607.25 L663.3,607.20 L665.3,607.35 L667.3,607.71 L669.3,608.31 L671.3,609.17 L673.3,610.30 L675.3,611.70 L677.3,613.36 L679.3,615.27 L681.3,617.40 L683.3,619.73 L685.3,622.22 L687.3,624.83 L689.3,627.51 L691.3,630.24 L693.3,632.95 L695.3,635.63 L697.3,638.22 L699.3,640.71 L701.3,643.06 L703.3,645.26 L705.3,647.29 L707.3,649.16 L709.3,650.87 L711.3,652.41 L713.3,653.81 L715.3,655.08 L717.3,656.24 L719.3,657.31 L721.3,658.31 L723.3,659.26 L725.3,660.18 L727.3,661.08 L729.3,661.97 L731.3,662.86 L733.3,663.76 L735.3,664.66 L737.3,665.57 L739.3,666.46 L741.3,667.35 L743.3,668.21 L745.3,669.05 L747.3,669.84 L749.3,670.59 L751.3,671.28 L753.3,671.92 L755.3,672.50 L757.3,673.03 L759.3,673.51 L761.3,673.96 L763.3,674.37 L765.3,674.76 L767.3,675.15 L769.3,675.53 L771.3,675.92 L773.3,676.34 L775.3,676.77 L777.3,677.23 L779.3,677.71 L781.3,678.21 L783.3,678.73 L785.3,679.25 L787.3,679.78 L789.3,680.29 L791.3,680.79 L793.3,681.26 L795.3,681.70 L797.3,682.10 L799.3,682.46 L801.3,682.77 L803.3,683.04 L805.3,683.27 L807.3,683.46 L809.3,683.61 L811.3,683.74 L813.3,683.83 L815.3,683.90 L817.3,683.95 L819.3,683.98 L821.3,684.00 L823.3,684.00 L825.3,684.00 L827.3,683.99 L829.3,683.98 L831.3,683.97 L833.3,683.95 L835.3,683.94 L837.3,683.92 L839.3,683.91 L841.3,683.90 L843.3,683.90 L845.3,683.90 L847.3,683.90 L849.3,683.91 L851.3,683.92 L853.3,683.94 L855.3,683.95 L857.3,683.97 L859.3,683.99 L861.3,684.01 L863.3,684.03 L865.3,684.05 L867.3,684.06 L869.3,684.07 L871.3,684.09 L873.3,684.10 L875.3,684.10 L877.3,684.11 L879.3,684.11 L881.3,684.12 L883.3,684.12 L885.3,684.12 L887.3,684.12 L889.3,684.12 L891.3,684.12 L893.3,684.12 L895.3,684.12 L897.3,684.12 L899.3,684.12 L901.3,684.12 L903.3,684.12 L905.3,684.12 L907.3,684.12 L909.3,684.12 L911.3,684.12 L913.3,684.12 L915.3,684.12 L917.3,684.12 L919.3,684.12 L921.3,684.12 L923.3,684.12 L925.3,684.12 L927.3,684.12 L929.3,684.12 L931.3,684.12 L933.3,684.12 L935.3,684.12 L937.3,684.12 L939.3,684.12 L941.3,684.12 L943.3,684.12 L945.3,684.12 L947.3,684.12 L949.3,684.12 L951.3,684.12 L953.3,684.12 L955.3,684.12 L957.3,684.12 L959.3,684.12 L961.3,684.12 L963.3,684.12 L965.3,684.12 L967.3,684.12 L969.3,684.12 L971.3,684.12 L973.3,684.12 L975.3,684.12 L977.3,684.12 L979.3,684.12 L981.3,684.12 L983.3,684.12 L985.3,684.12 L987.3,684.12 L989.3,684.12 L991.3,684.12 L993.3,684.12 L995.3,684.12 L997.3,684.12 L999.3,684.12 L1001.3,684.12 L1003.3,684.12 L1005.3,684.12 L1007.3,684.12 L1009.3,684.12 L1011.3,684.12 L1013.3,684.12 L1015.3,684.12 L1017.3,684.12 L1019.3,684.12 L1021.3,684.12 L1023.3,684.12 L1025.3,684.12 L1027.3,684.12 L1029.3,684.12 L1031.3,684.12 L1033.3,684.12 L1035.3,684.12 L1037.3,684.12 L1039.3,684.12 L1041.3,684.12 L1043.3,684.12 L1045.3,684.12 L1047.3,684.12 L1049.3,684.12 L1051.3,684.12 L1053.3,684.12 L1055.3,684.12 L1057.3,684.12 L1059.3,684.12 L1061.3,684.12 L1063.3,684.12 L1065.3,684.12 L1067.3,684.12 L1069.3,684.12 L1071.3,684.12 L1073.3,684.12 L1075.3,684.12 L1077.3,684.12 L1079.3,684.12 L1081.3,684.12 L1083.3,684.12 L1085.3,684.12 L1087.3,684.12 L1089.3,684.12 L1091.3,684.12 L1093.3,684.12 L1095.3,684.12 L1097.3,684.12 L1099.3,684.12 L1101.3,684.12 L1103.3,684.12 L1105.3,684.12 L1107.3,684.12 L1109.3,684.12 L1111.3,684.12 L1113.3,684.12 L1115.3,684.12 L1117.3,684.12 L1119.3,684.12 L1121.3,684.12 L1123.3,684.12 L1125.3,684.12 L1127.3,684.12 L1129.3,684.12 L1131.3,684.12 L1133.3,684.12 L1135.3,684.12 L1137.3,684.12 L1139.3,684.12 L1141.3,684.12 L1143.3,684.12 L1145.3,684.12 L1147.3,684.12 L1149.3,684.12 L1151.3,684.12 L1153.3,684.12 L1155.3,684.12 L1157.3,684.12 L1159.3,684.12 L1161.3,684.12 L1163.3,684.12 L1165.3,684.12 L1167.3,684.12 L1169.3,684.12 L1171.3,684.12 L1173.3,684.12 L1175.3,684.12 L1177.3,684.12 L1179.3,684.12 L1181.3,684.12 L1183.3,684.12 L1185.3,684.12 L1187.3,684.12 L1189.3,684.12 L1191.3,684.12 L1193.3,684.12 L1195.3,684.12 L1197.3,684.12 L1199.3,684.12 L1201.3,684.12 L1203.3,684.12 L1205.3,684.12 L1207.3,684.12 L1209.3,684.12 L1211.3,684.12 L1213.3,684.12 L1215.3,684.12 L1217.3,684.12 L1219.3,684.12 L1221.3,684.12 L1223.3,684.12 L1225.3,684.12 L1227.3,684.12 L1229.3,684.12 L1231.3,684.12 L1233.3,684.12 L1235.3,684.12 L1237.3,684.12 L1239.3,684.12 L1241.3,684.12 L1243.3,684.12 L1245.3,684.12 L1247.3,684.12 L1249.3,684.12 L1251.3,684.12 L1253.3,684.12 L1255.3,684.12 L1257.3,684.12 L1259.3,684.12 L1261.3,684.12 L1263.3,684.12 L1265.3,684.12 L1267.3,684.12 L1269.3,684.12 L1271.3,684.12 L1273.3,684.12 L1275.3,684.12 L1277.3,684.12 L1279.3,684.12 L1281.3,684.12 L1283.3,684.12 L1285.3,684.12 L1287.3,684.12 L1289.3,684.12 L1291.3,684.12 L1293.3,684.12 L1295.3,684.12 L1297.3,684.12 L1298.3,684.12 L1298.3,684.125 L467.3,684.125 Z" fill="#B59F29" fill-opacity="0.7" stroke="none"/>
<path d="M467.3,684.09 L469.3,684.08 L471.3,684.07 L473.3,684.05 L475.3,684.03 L477.3,684.00 L479.3,683.98 L481.3,683.94 L483.3,683.91 L485.3,683.87 L487.3,683.83 L489.3,683.80 L491.3,683.76 L493.3,683.72 L495.3,683.68 L497.3,683.64 L499.3,683.61 L501.3,683.59 L503.3,683.56 L505.3,683.54 L507.3,683.53 L509.3,683.51 L511.3,683.49 L513.3,683.47 L515.3,683.45 L517.3,683.41 L519.3,683.36 L521.3,683.29 L523.3,683.19 L525.3,683.07 L527.3,682.91 L529.3,682.70 L531.3,682.44 L533.3,682.13 L535.3,681.76 L537.3,681.32 L539.3,680.80 L541.3,680.20 L543.3,679.52 L545.3,678.75 L547.3,677.89 L549.3,676.93 L551.3,675.86 L553.3,674.70 L555.3,673.42 L557.3,672.03 L559.3,670.54 L561.3,668.92 L563.3,667.19 L565.3,665.35 L567.3,663.39 L569.3,661.31 L571.3,659.13 L573.3,656.85 L575.3,654.47 L577.3,652.00 L579.3,649.47 L581.3,646.87 L583.3,644.24 L585.3,641.59 L587.3,638.93 L589.3,636.30 L591.3,633.71 L593.3,631.19 L595.3,628.75 L597.3,626.42 L599.3,624.21 L601.3,622.15 L603.3,620.24 L605.3,618.49 L607.3,616.92 L609.3,615.53 L611.3,614.32 L613.3,613.29 L615.3,612.44 L617.3,611.76 L619.3,611.23 L621.3,610.85 L623.3,610.60 L625.3,610.46 L627.3,610.40 L629.3,610.41 L631.3,610.46 L633.3,610.53 L635.3,610.59 L637.3,610.61 L639.3,610.59 L641.3,610.51 L643.3,610.35 L645.3,610.11 L647.3,609.80 L649.3,609.43 L651.3,609.01 L653.3,608.58 L655.3,608.14 L657.3,607.76 L659.3,607.44 L661.3,607.25 L663.3,607.20 L665.3,607.35 L667.3,607.71 L669.3,608.31 L671.3,609.17 L673.3,610.30 L675.3,611.70 L677.3,613.36 L679.3,615.27 L681.3,617.40 L683.3,619.73 L685.3,622.22 L687.3,624.83 L689.3,627.51 L691.3,630.24 L693.3,632.95 L695.3,635.63 L697.3,638.22 L699.3,640.71 L701.3,643.06 L703.3,645.26 L705.3,647.29 L707.3,649.16 L709.3,650.87 L711.3,652.41 L713.3,653.81 L715.3,655.08 L717.3,656.24 L719.3,657.31 L721.3,658.31 L723.3,659.26 L725.3,660.18 L727.3,661.08 L729.3,661.97 L731.3,662.86 L733.3,663.76 L735.3,664.66 L737.3,665.57 L739.3,666.46 L741.3,667.35 L743.3,668.21 L745.3,669.05 L747.3,669.84 L749.3,670.59 L751.3,671.28 L753.3,671.92 L755.3,672.50 L757.3,673.03 L759.3,673.51 L761.3,673.96 L763.3,674.37 L765.3,674.76 L767.3,675.15 L769.3,675.53 L771.3,675.92 L773.3,676.34 L775.3,676.77 L777.3,677.23 L779.3,677.71 L781.3,678.21 L783.3,678.73 L785.3,679.25 L787.3,679.78 L789.3,680.29 L791.3,680.79 L793.3,681.26 L795.3,681.70 L797.3,682.10 L799.3,682.46 L801.3,682.77 L803.3,683.04 L805.3,683.27 L807.3,683.46 L809.3,683.61 L811.3,683.74 L813.3,683.83 L815.3,683.90 L817.3,683.95 L819.3,683.98 L821.3,684.00 L823.3,684.00 L825.3,684.00 L827.3,683.99 L829.3,683.98 L831.3,683.97 L833.3,683.95 L835.3,683.94 L837.3,683.92 L839.3,683.91 L841.3,683.90 L843.3,683.90 L845.3,683.90 L847.3,683.90 L849.3,683.91 L851.3,683.92 L853.3,683.94 L855.3,683.95 L857.3,683.97 L859.3,683.99 L861.3,684.01 L863.3,684.03 L865.3,684.05 L867.3,684.06 L869.3,684.07 L871.3,684.09 L873.3,684.10 L875.3,684.10 L877.3,684.11 L879.3,684.11 L881.3,684.12 L883.3,684.12 L885.3,684.12 L887.3,684.12 L889.3,684.12 L891.3,684.12 L893.3,684.12 L895.3,684.12 L897.3,684.12 L899.3,684.12 L901.3,684.12 L903.3,684.12 L905.3,684.12 L907.3,684.12 L909.3,684.12 L911.3,684.12 L913.3,684.12 L915.3,684.12 L917.3,684.12 L919.3,684.12 L921.3,684.12 L923.3,684.12 L925.3,684.12 L927.3,684.12 L929.3,684.12 L931.3,684.12 L933.3,684.12 L935.3,684.12 L937.3,684.12 L939.3,684.12 L941.3,684.12 L943.3,684.12 L945.3,684.12 L947.3,684.12 L949.3,684.12 L951.3,684.12 L953.3,684.12 L955.3,684.12 L957.3,684.12 L959.3,684.12 L961.3,684.12 L963.3,684.12 L965.3,684.12 L967.3,684.12 L969.3,684.12 L971.3,684.12 L973.3,684.12 L975.3,684.12 L977.3,684.12 L979.3,684.12 L981.3,684.12 L983.3,684.12 L985.3,684.12 L987.3,684.12 L989.3,684.12 L991.3,684.12 L993.3,684.12 L995.3,684.12 L997.3,684.12 L999.3,684.12 L1001.3,684.12 L1003.3,684.12 L1005.3,684.12 L1007.3,684.12 L1009.3,684.12 L1011.3,684.12 L1013.3,684.12 L1015.3,684.12 L1017.3,684.12 L1019.3,684.12 L1021.3,684.12 L1023.3,684.12 L1025.3,684.12 L1027.3,684.12 L1029.3,684.12 L1031.3,684.12 L1033.3,684.12 L1035.3,684.12 L1037.3,684.12 L1039.3,684.12 L1041.3,684.12 L1043.3,684.12 L1045.3,684.12 L1047.3,684.12 L1049.3,684.12 L1051.3,684.12 L1053.3,684.12 L1055.3,684.12 L1057.3,684.12 L1059.3,684.12 L1061.3,684.12 L1063.3,684.12 L1065.3,684.12 L1067.3,684.12 L1069.3,684.12 L1071.3,684.12 L1073.3,684.12 L1075.3,684.12 L1077.3,684.12 L1079.3,684.12 L1081.3,684.12 L1083.3,684.12 L1085.3,684.12 L1087.3,684.12 L1089.3,684.12 L1091.3,684.12 L1093.3,684.12 L1095.3,684.12 L1097.3,684.12 L1099.3,684.12 L1101.3,684.12 L1103.3,684.12 L1105.3,684.12 L1107.3,684.12 L1109.3,684.12 L1111.3,684.12 L1113.3,684.12 L1115.3,684.12 L1117.3,684.12 L1119.3,684.12 L1121.3,684.12 L1123.3,684.12 L1125.3,684.12 L1127.3,684.12 L1129.3,684.12 L1131.3,684.12 L1133.3,684.12 L1135.3,684.12 L1137.3,684.12 L1139.3,684.12 L1141.3,684.12 L1143.3,684.12 L1145.3,684.12 L1147.3,684.12 L1149.3,684.12 L1151.3,684.12 L1153.3,684.12 L1155.3,684.12 L1157.3,684.12 L1159.3,684.12 L1161.3,684.12 L1163.3,684.12 L1165.3,684.12 L1167.3,684.12 L1169.3,684.12 L1171.3,684.12 L1173.3,684.12 L1175.3,684.12 L1177.3,684.12 L1179.3,684.12 L1181.3,684.12 L1183.3,684.12 L1185.3,684.12 L1187.3,684.12 L1189.3,684.12 L1191.3,684.12 L1193.3,684.12 L1195.3,684.12 L1197.3,684.12 L1199.3,684.12 L1201.3,684.12 L1203.3,684.12 L1205.3,684.12 L1207.3,684.12 L1209.3,684.12 L1211.3,684.12 L1213.3,684.12 L1215.3,684.12 L1217.3,684.12 L1219.3,684.12 L1221.3,684.12 L1223.3,684.12 L1225.3,684.12 L1227.3,684.12 L1229.3,684.12 L1231.3,684.12 L1233.3,684.12 L1235.3,684.12 L1237.3,684.12 L1239.3,684.12 L1241.3,684.12 L1243.3,684.12 L1245.3,684.12 L1247.3,684.12 L1249.3,684.12 L1251.3,684.12 L1253.3,684.12 L1255.3,684.12 L1257.3,684.12 L1259.3,684.12 L1261.3,684.12 L1263.3,684.12 L1265.3,684.12 L1267.3,684.12 L1269.3,684.12 L1271.3,684.12 L1273.3,684.12 L1275.3,684.12 L1277.3,684.12 L1279.3,684.12 L1281.3,684.12 L1283.3,684.12 L1285.3,684.12 L1287.3,684.12 L1289.3,684.12 L1291.3,684.12 L1293.3,684.12 L1295.3,684.12 L1297.3,684.12 L1298.3,684.12" fill="none" stroke="#000" stroke-width="3.1" stroke-linecap="round" stroke-linejoin="round"/>
<line x1="595.75" y1="684.125" x2="595.75" y2="628.21" stroke="#000" stroke-width="3.1"/>
<line x1="652.50" y1="684.125" x2="652.50" y2="608.75" stroke="#000" stroke-width="3.1"/>
<line x1="715.50" y1="684.125" x2="715.50" y2="655.20" stroke="#000" stroke-width="3.1"/>
<path d="M467.3,768.44 L469.3,768.43 L471.3,768.41 L473.3,768.39 L475.3,768.37 L477.3,768.35 L479.3,768.33 L481.3,768.30 L483.3,768.27 L485.3,768.23 L487.3,768.19 L489.3,768.14 L491.3,768.08 L493.3,768.01 L495.3,767.93 L497.3,767.83 L499.3,767.70 L501.3,767.56 L503.3,767.39 L505.3,767.19 L507.3,766.97 L509.3,766.72 L511.3,766.43 L513.3,766.12 L515.3,765.77 L517.3,765.40 L519.3,764.99 L521.3,764.54 L523.3,764.06 L525.3,763.53 L527.3,762.97 L529.3,762.36 L531.3,761.69 L533.3,760.97 L535.3,760.19 L537.3,759.34 L539.3,758.42 L541.3,757.42 L543.3,756.34 L545.3,755.18 L547.3,753.93 L549.3,752.60 L551.3,751.17 L553.3,749.67 L555.3,748.08 L557.3,746.42 L559.3,744.70 L561.3,742.92 L563.3,741.11 L565.3,739.28 L567.3,737.44 L569.3,735.62 L571.3,733.83 L573.3,732.10 L575.3,730.44 L577.3,728.88 L579.3,727.42 L581.3,726.06 L583.3,724.83 L585.3,723.72 L587.3,722.71 L589.3,721.82 L591.3,721.02 L593.3,720.30 L595.3,719.64 L597.3,719.03 L599.3,718.45 L601.3,717.89 L603.3,717.33 L605.3,716.75 L607.3,716.15 L609.3,715.53 L611.3,714.88 L613.3,714.19 L615.3,713.48 L617.3,712.75 L619.3,712.01 L621.3,711.25 L623.3,710.51 L625.3,709.77 L627.3,709.06 L629.3,708.38 L631.3,707.75 L633.3,707.16 L635.3,706.64 L637.3,706.17 L639.3,705.78 L641.3,705.46 L643.3,705.22 L645.3,705.06 L647.3,705.00 L649.3,705.02 L651.3,705.14 L653.3,705.36 L655.3,705.68 L657.3,706.11 L659.3,706.65 L661.3,707.31 L663.3,708.08 L665.3,708.96 L667.3,709.95 L669.3,711.05 L671.3,712.25 L673.3,713.53 L675.3,714.87 L677.3,716.27 L679.3,717.70 L681.3,719.15 L683.3,720.57 L685.3,721.97 L687.3,723.32 L689.3,724.60 L691.3,725.80 L693.3,726.91 L695.3,727.94 L697.3,728.89 L699.3,729.76 L701.3,730.57 L703.3,731.35 L705.3,732.11 L707.3,732.87 L709.3,733.65 L711.3,734.48 L713.3,735.38 L715.3,736.35 L717.3,737.41 L719.3,738.55 L721.3,739.79 L723.3,741.10 L725.3,742.48 L727.3,743.91 L729.3,745.38 L731.3,746.85 L733.3,748.30 L735.3,749.72 L737.3,751.08 L739.3,752.36 L741.3,753.54 L743.3,754.61 L745.3,755.56 L747.3,756.38 L749.3,757.07 L751.3,757.63 L753.3,758.06 L755.3,758.37 L757.3,758.57 L759.3,758.68 L761.3,758.70 L763.3,758.65 L765.3,758.55 L767.3,758.40 L769.3,758.22 L771.3,758.03 L773.3,757.83 L775.3,757.64 L777.3,757.47 L779.3,757.32 L781.3,757.20 L783.3,757.12 L785.3,757.09 L787.3,757.11 L789.3,757.18 L791.3,757.30 L793.3,757.47 L795.3,757.70 L797.3,757.97 L799.3,758.29 L801.3,758.64 L803.3,759.01 L805.3,759.40 L807.3,759.81 L809.3,760.21 L811.3,760.60 L813.3,760.98 L815.3,761.33 L817.3,761.66 L819.3,761.96 L821.3,762.24 L823.3,762.48 L825.3,762.69 L827.3,762.88 L829.3,763.04 L831.3,763.17 L833.3,763.28 L835.3,763.36 L837.3,763.42 L839.3,763.45 L841.3,763.45 L843.3,763.42 L845.3,763.37 L847.3,763.29 L849.3,763.19 L851.3,763.07 L853.3,762.94 L855.3,762.82 L857.3,762.70 L859.3,762.60 L861.3,762.54 L863.3,762.52 L865.3,762.54 L867.3,762.63 L869.3,762.77 L871.3,762.96 L873.3,763.22 L875.3,763.52 L877.3,763.86 L879.3,764.24 L881.3,764.63 L883.3,765.04 L885.3,765.44 L887.3,765.83 L889.3,766.20 L891.3,766.54 L893.3,766.85 L895.3,767.12 L897.3,767.36 L899.3,767.56 L901.3,767.73 L903.3,767.87 L905.3,767.98 L907.3,768.06 L909.3,768.13 L911.3,768.19 L913.3,768.23 L915.3,768.27 L917.3,768.30 L919.3,768.32 L921.3,768.35 L923.3,768.37 L925.3,768.39 L927.3,768.40 L929.3,768.42 L931.3,768.43 L933.3,768.44 L935.3,768.45 L937.3,768.46 L939.3,768.47 L941.3,768.47 L943.3,768.48 L945.3,768.48 L947.3,768.48 L949.3,768.47 L951.3,768.47 L953.3,768.46 L955.3,768.45 L957.3,768.44 L959.3,768.43 L961.3,768.41 L963.3,768.39 L965.3,768.36 L967.3,768.32 L969.3,768.28 L971.3,768.23 L973.3,768.16 L975.3,768.09 L977.3,768.00 L979.3,767.90 L981.3,767.78 L983.3,767.64 L985.3,767.49 L987.3,767.33 L989.3,767.14 L991.3,766.94 L993.3,766.73 L995.3,766.50 L997.3,766.25 L999.3,766.00 L1001.3,765.73 L1003.3,765.46 L1005.3,765.19 L1007.3,764.91 L1009.3,764.65 L1011.3,764.39 L1013.3,764.15 L1015.3,763.93 L1017.3,763.73 L1019.3,763.57 L1021.3,763.44 L1023.3,763.35 L1025.3,763.31 L1027.3,763.30 L1029.3,763.34 L1031.3,763.42 L1033.3,763.54 L1035.3,763.70 L1037.3,763.89 L1039.3,764.12 L1041.3,764.37 L1043.3,764.63 L1045.3,764.92 L1047.3,765.21 L1049.3,765.51 L1051.3,765.80 L1053.3,766.09 L1055.3,766.37 L1057.3,766.64 L1059.3,766.88 L1061.3,767.12 L1063.3,767.33 L1065.3,767.52 L1067.3,767.69 L1069.3,767.83 L1071.3,767.96 L1073.3,768.07 L1075.3,768.16 L1077.3,768.23 L1079.3,768.30 L1081.3,768.34 L1083.3,768.38 L1085.3,768.41 L1087.3,768.44 L1089.3,768.45 L1091.3,768.47 L1093.3,768.48 L1095.3,768.48 L1097.3,768.49 L1099.3,768.49 L1101.3,768.49 L1103.3,768.50 L1105.3,768.50 L1107.3,768.50 L1109.3,768.50 L1111.3,768.50 L1113.3,768.50 L1115.3,768.50 L1117.3,768.50 L1119.3,768.50 L1121.3,768.50 L1123.3,768.50 L1125.3,768.50 L1127.3,768.50 L1129.3,768.50 L1131.3,768.50 L1133.3,768.50 L1135.3,768.50 L1137.3,768.50 L1139.3,768.50 L1141.3,768.50 L1143.3,768.50 L1145.3,768.50 L1147.3,768.50 L1149.3,768.50 L1151.3,768.50 L1153.3,768.50 L1155.3,768.50 L1157.3,768.50 L1159.3,768.50 L1161.3,768.50 L1163.3,768.50 L1165.3,768.50 L1167.3,768.50 L1169.3,768.50 L1171.3,768.50 L1173.3,768.50 L1175.3,768.50 L1177.3,768.50 L1179.3,768.50 L1181.3,768.50 L1183.3,768.50 L1185.3,768.50 L1187.3,768.50 L1189.3,768.50 L1191.3,768.50 L1193.3,768.50 L1195.3,768.50 L1197.3,768.50 L1199.3,768.50 L1201.3,768.50 L1203.3,768.50 L1205.3,768.50 L1207.3,768.50 L1209.3,768.50 L1211.3,768.50 L1213.3,768.50 L1215.3,768.50 L1217.3,768.50 L1219.3,768.50 L1221.3,768.50 L1223.3,768.50 L1225.3,768.50 L1227.3,768.50 L1229.3,768.50 L1231.3,768.50 L1233.3,768.50 L1235.3,768.50 L1237.3,768.50 L1239.3,768.50 L1241.3,768.50 L1243.3,768.50 L1245.3,768.50 L1247.3,768.50 L1249.3,768.50 L1251.3,768.50 L1253.3,768.50 L1255.3,768.50 L1257.3,768.50 L1259.3,768.50 L1261.3,768.50 L1263.3,768.50 L1265.3,768.50 L1267.3,768.50 L1269.3,768.50 L1271.3,768.50 L1273.3,768.50 L1275.3,768.50 L1277.3,768.50 L1279.3,768.50 L1281.3,768.50 L1283.3,768.50 L1285.3,768.50 L1287.3,768.50 L1289.3,768.50 L1291.3,768.50 L1293.3,768.50 L1295.3,768.50 L1297.3,768.50 L1298.3,768.50 L1298.3,768.5 L467.3,768.5 Z" fill="#F25CE0" fill-opacity="0.7" stroke="none"/>
<path d="M467.3,768.44 L469.3,768.43 L471.3,768.41 L473.3,768.39 L475.3,768.37 L477.3,768.35 L479.3,768.33 L481.3,768.30 L483.3,768.27 L485.3,768.23 L487.3,768.19 L489.3,768.14 L491.3,768.08 L493.3,768.01 L495.3,767.93 L497.3,767.83 L499.3,767.70 L501.3,767.56 L503.3,767.39 L505.3,767.19 L507.3,766.97 L509.3,766.72 L511.3,766.43 L513.3,766.12 L515.3,765.77 L517.3,765.40 L519.3,764.99 L521.3,764.54 L523.3,764.06 L525.3,763.53 L527.3,762.97 L529.3,762.36 L531.3,761.69 L533.3,760.97 L535.3,760.19 L537.3,759.34 L539.3,758.42 L541.3,757.42 L543.3,756.34 L545.3,755.18 L547.3,753.93 L549.3,752.60 L551.3,751.17 L553.3,749.67 L555.3,748.08 L557.3,746.42 L559.3,744.70 L561.3,742.92 L563.3,741.11 L565.3,739.28 L567.3,737.44 L569.3,735.62 L571.3,733.83 L573.3,732.10 L575.3,730.44 L577.3,728.88 L579.3,727.42 L581.3,726.06 L583.3,724.83 L585.3,723.72 L587.3,722.71 L589.3,721.82 L591.3,721.02 L593.3,720.30 L595.3,719.64 L597.3,719.03 L599.3,718.45 L601.3,717.89 L603.3,717.33 L605.3,716.75 L607.3,716.15 L609.3,715.53 L611.3,714.88 L613.3,714.19 L615.3,713.48 L617.3,712.75 L619.3,712.01 L621.3,711.25 L623.3,710.51 L625.3,709.77 L627.3,709.06 L629.3,708.38 L631.3,707.75 L633.3,707.16 L635.3,706.64 L637.3,706.17 L639.3,705.78 L641.3,705.46 L643.3,705.22 L645.3,705.06 L647.3,705.00 L649.3,705.02 L651.3,705.14 L653.3,705.36 L655.3,705.68 L657.3,706.11 L659.3,706.65 L661.3,707.31 L663.3,708.08 L665.3,708.96 L667.3,709.95 L669.3,711.05 L671.3,712.25 L673.3,713.53 L675.3,714.87 L677.3,716.27 L679.3,717.70 L681.3,719.15 L683.3,720.57 L685.3,721.97 L687.3,723.32 L689.3,724.60 L691.3,725.80 L693.3,726.91 L695.3,727.94 L697.3,728.89 L699.3,729.76 L701.3,730.57 L703.3,731.35 L705.3,732.11 L707.3,732.87 L709.3,733.65 L711.3,734.48 L713.3,735.38 L715.3,736.35 L717.3,737.41 L719.3,738.55 L721.3,739.79 L723.3,741.10 L725.3,742.48 L727.3,743.91 L729.3,745.38 L731.3,746.85 L733.3,748.30 L735.3,749.72 L737.3,751.08 L739.3,752.36 L741.3,753.54 L743.3,754.61 L745.3,755.56 L747.3,756.38 L749.3,757.07 L751.3,757.63 L753.3,758.06 L755.3,758.37 L757.3,758.57 L759.3,758.68 L761.3,758.70 L763.3,758.65 L765.3,758.55 L767.3,758.40 L769.3,758.22 L771.3,758.03 L773.3,757.83 L775.3,757.64 L777.3,757.47 L779.3,757.32 L781.3,757.20 L783.3,757.12 L785.3,757.09 L787.3,757.11 L789.3,757.18 L791.3,757.30 L793.3,757.47 L795.3,757.70 L797.3,757.97 L799.3,758.29 L801.3,758.64 L803.3,759.01 L805.3,759.40 L807.3,759.81 L809.3,760.21 L811.3,760.60 L813.3,760.98 L815.3,761.33 L817.3,761.66 L819.3,761.96 L821.3,762.24 L823.3,762.48 L825.3,762.69 L827.3,762.88 L829.3,763.04 L831.3,763.17 L833.3,763.28 L835.3,763.36 L837.3,763.42 L839.3,763.45 L841.3,763.45 L843.3,763.42 L845.3,763.37 L847.3,763.29 L849.3,763.19 L851.3,763.07 L853.3,762.94 L855.3,762.82 L857.3,762.70 L859.3,762.60 L861.3,762.54 L863.3,762.52 L865.3,762.54 L867.3,762.63 L869.3,762.77 L871.3,762.96 L873.3,763.22 L875.3,763.52 L877.3,763.86 L879.3,764.24 L881.3,764.63 L883.3,765.04 L885.3,765.44 L887.3,765.83 L889.3,766.20 L891.3,766.54 L893.3,766.85 L895.3,767.12 L897.3,767.36 L899.3,767.56 L901.3,767.73 L903.3,767.87 L905.3,767.98 L907.3,768.06 L909.3,768.13 L911.3,768.19 L913.3,768.23 L915.3,768.27 L917.3,768.30 L919.3,768.32 L921.3,768.35 L923.3,768.37 L925.3,768.39 L927.3,768.40 L929.3,768.42 L931.3,768.43 L933.3,768.44 L935.3,768.45 L937.3,768.46 L939.3,768.47 L941.3,768.47 L943.3,768.48 L945.3,768.48 L947.3,768.48 L949.3,768.47 L951.3,768.47 L953.3,768.46 L955.3,768.45 L957.3,768.44 L959.3,768.43 L961.3,768.41 L963.3,768.39 L965.3,768.36 L967.3,768.32 L969.3,768.28 L971.3,768.23 L973.3,768.16 L975.3,768.09 L977.3,768.00 L979.3,767.90 L981.3,767.78 L983.3,767.64 L985.3,767.49 L987.3,767.33 L989.3,767.14 L991.3,766.94 L993.3,766.73 L995.3,766.50 L997.3,766.25 L999.3,766.00 L1001.3,765.73 L1003.3,765.46 L1005.3,765.19 L1007.3,764.91 L1009.3,764.65 L1011.3,764.39 L1013.3,764.15 L1015.3,763.93 L1017.3,763.73 L1019.3,763.57 L1021.3,763.44 L1023.3,763.35 L1025.3,763.31 L1027.3,763.30 L1029.3,763.34 L1031.3,763.42 L1033.3,763.54 L1035.3,763.70 L1037.3,763.89 L1039.3,764.12 L1041.3,764.37 L1043.3,764.63 L1045.3,764.92 L1047.3,765.21 L1049.3,765.51 L1051.3,765.80 L1053.3,766.09 L1055.3,766.37 L1057.3,766.64 L1059.3,766.88 L1061.3,767.12 L1063.3,767.33 L1065.3,767.52 L1067.3,767.69 L1069.3,767.83 L1071.3,767.96 L1073.3,768.07 L1075.3,768.16 L1077.3,768.23 L1079.3,768.30 L1081.3,768.34 L1083.3,768.38 L1085.3,768.41 L1087.3,768.44 L1089.3,768.45 L1091.3,768.47 L1093.3,768.48 L1095.3,768.48 L1097.3,768.49 L1099.3,768.49 L1101.3,768.49 L1103.3,768.50 L1105.3,768.50 L1107.3,768.50 L1109.3,768.50 L1111.3,768.50 L1113.3,768.50 L1115.3,768.50 L1117.3,768.50 L1119.3,768.50 L1121.3,768.50 L1123.3,768.50 L1125.3,768.50 L1127.3,768.50 L1129.3,768.50 L1131.3,768.50 L1133.3,768.50 L1135.3,768.50 L1137.3,768.50 L1139.3,768.50 L1141.3,768.50 L1143.3,768.50 L1145.3,768.50 L1147.3,768.50 L1149.3,768.50 L1151.3,768.50 L1153.3,768.50 L1155.3,768.50 L1157.3,768.50 L1159.3,768.50 L1161.3,768.50 L1163.3,768.50 L1165.3,768.50 L1167.3,768.50 L1169.3,768.50 L1171.3,768.50 L1173.3,768.50 L1175.3,768.50 L1177.3,768.50 L1179.3,768.50 L1181.3,768.50 L1183.3,768.50 L1185.3,768.50 L1187.3,768.50 L1189.3,768.50 L1191.3,768.50 L1193.3,768.50 L1195.3,768.50 L1197.3,768.50 L1199.3,768.50 L1201.3,768.50 L1203.3,768.50 L1205.3,768.50 L1207.3,768.50 L1209.3,768.50 L1211.3,768.50 L1213.3,768.50 L1215.3,768.50 L1217.3,768.50 L1219.3,768.50 L1221.3,768.50 L1223.3,768.50 L1225.3,768.50 L1227.3,768.50 L1229.3,768.50 L1231.3,768.50 L1233.3,768.50 L1235.3,768.50 L1237.3,768.50 L1239.3,768.50 L1241.3,768.50 L1243.3,768.50 L1245.3,768.50 L1247.3,768.50 L1249.3,768.50 L1251.3,768.50 L1253.3,768.50 L1255.3,768.50 L1257.3,768.50 L1259.3,768.50 L1261.3,768.50 L1263.3,768.50 L1265.3,768.50 L1267.3,768.50 L1269.3,768.50 L1271.3,768.50 L1273.3,768.50 L1275.3,768.50 L1277.3,768.50 L1279.3,768.50 L1281.3,768.50 L1283.3,768.50 L1285.3,768.50 L1287.3,768.50 L1289.3,768.50 L1291.3,768.50 L1293.3,768.50 L1295.3,768.50 L1297.3,768.50 L1298.3,768.50" fill="none" stroke="#000" stroke-width="3.1" stroke-linecap="round" stroke-linejoin="round"/>
<line x1="581.25" y1="768.5" x2="581.25" y2="726.10" stroke="#000" stroke-width="3.1"/>
<line x1="656.25" y1="768.5" x2="656.25" y2="705.87" stroke="#000" stroke-width="3.1"/>
<line x1="782.40" y1="768.5" x2="782.40" y2="757.15" stroke="#000" stroke-width="3.1"/>
<path d="M944.50,251.55 L953.77,267.60 L935.23,267.60 Z" fill="#FF0000" stroke="#000" stroke-width="2.7" stroke-linejoin="round"/>
<path d="M885.25,335.93 L894.52,351.98 L875.98,351.98 Z" fill="#FF0000" stroke="#000" stroke-width="2.7" stroke-linejoin="round"/>
<path d="M849.00,420.30 L858.27,436.35 L839.73,436.35 Z" fill="#FF0000" stroke="#000" stroke-width="2.7" stroke-linejoin="round"/>
<path d="M759.25,504.68 L768.52,520.73 L749.98,520.73 Z" fill="#FF0000" stroke="#000" stroke-width="2.7" stroke-linejoin="round"/>
<path d="M652.25,589.05 L661.52,605.10 L642.98,605.10 Z" fill="#FF0000" stroke="#000" stroke-width="2.7" stroke-linejoin="round"/>
<path d="M640.50,673.42 L649.77,689.48 L631.23,689.48 Z" fill="#FF0000" stroke="#000" stroke-width="2.7" stroke-linejoin="round"/>
<path d="M618.75,757.80 L628.02,773.85 L609.48,773.85 Z" fill="#FF0000" stroke="#000" stroke-width="2.7" stroke-linejoin="round"/>
<text x="441" y="94.0" text-anchor="end" font-size="32">Chris Rodriguez Jr. (RB)</text>
<text x="441" y="178.4" text-anchor="end" font-size="32">Cade Otton (TE)</text>
<text x="441" y="262.8" text-anchor="end" font-size="32">James Cook (RB)</text>
<text x="441" y="347.1" text-anchor="end" font-size="32">Brock Purdy (QB)</text>
<text x="441" y="431.5" text-anchor="end" font-size="32">Ja&#39;Marr Chase (WR)</text>
<text x="441" y="515.9" text-anchor="end" font-size="32">Zay Flowers (WR)</text>
<text x="441" y="600.2" text-anchor="end" font-size="32">Kansas City Chiefs (DEF)</text>
<text x="441" y="684.6" text-anchor="end" font-size="32">Joey Slye (K)</text>
<text x="441" y="769.0" text-anchor="end" font-size="32">Jerry Jeudy (WR)</text>
<text x="567.65" y="876.6" text-anchor="middle" font-size="32">0</text>
<text x="809.79" y="876.6" text-anchor="middle" font-size="32">20</text>
<text x="1051.93" y="876.6" text-anchor="middle" font-size="32">40</text>
<text x="1294.07" y="876.6" text-anchor="middle" font-size="32">60</text>
<text x="1306" y="929.6" text-anchor="end" font-size="37.2">points</text>
</svg></body></html>
